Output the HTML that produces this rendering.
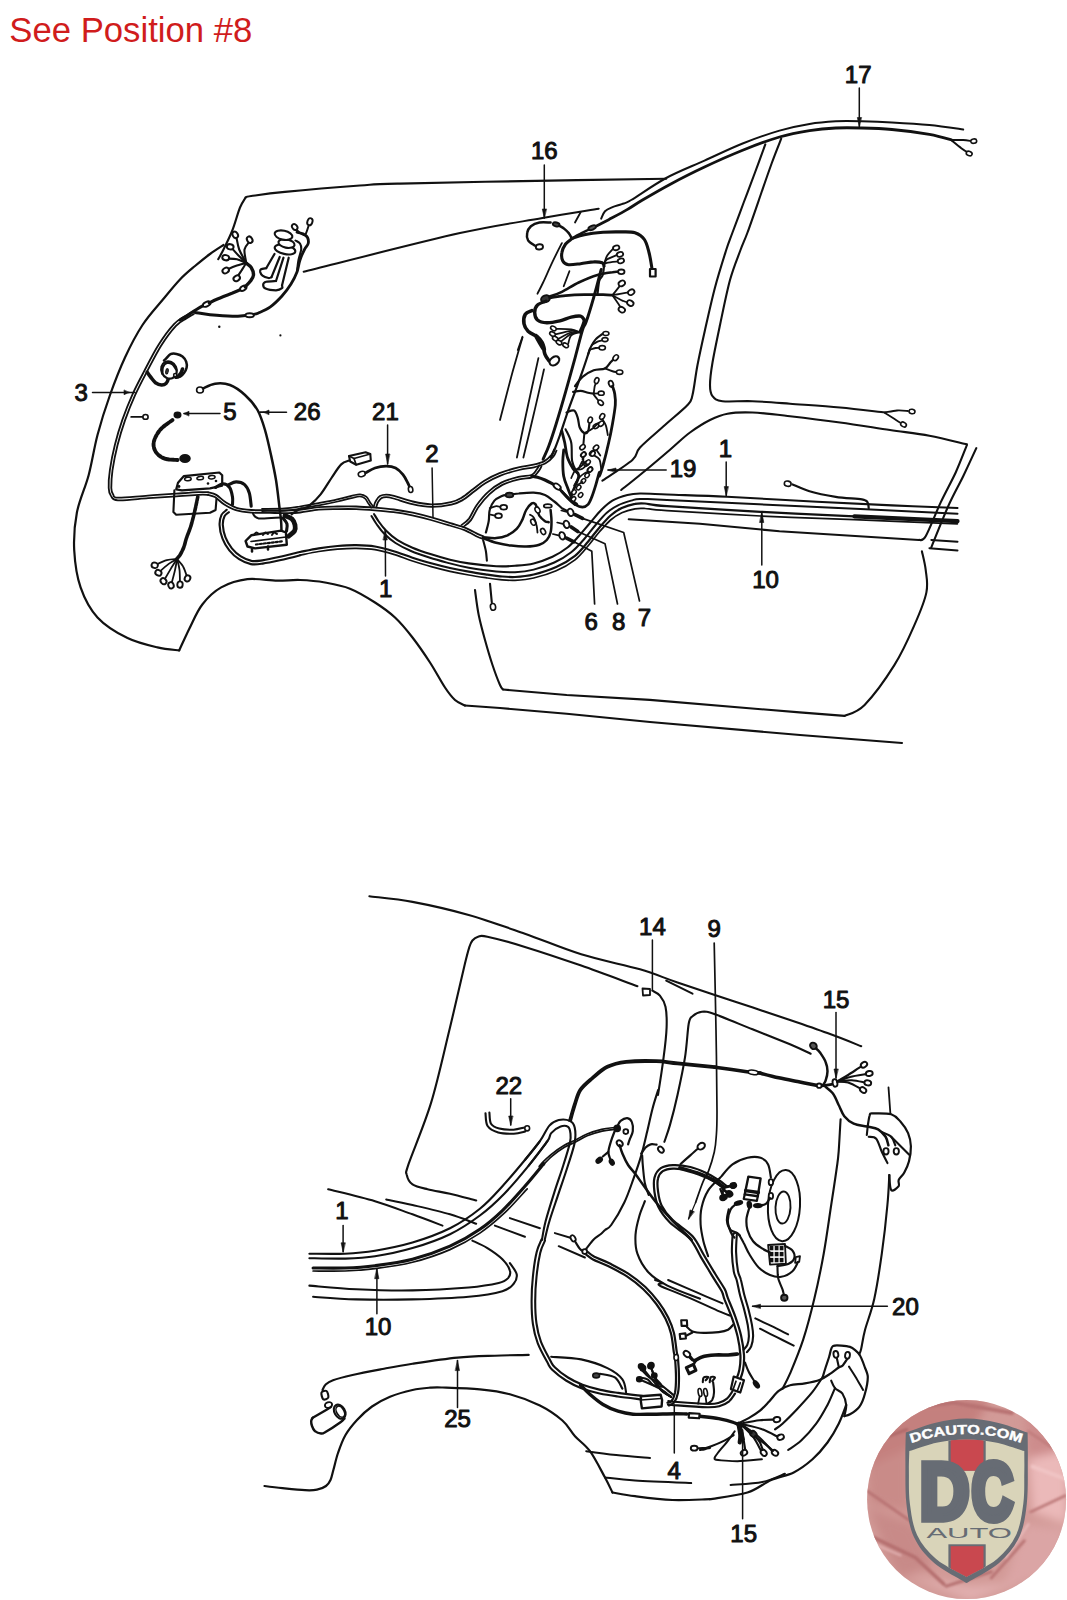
<!DOCTYPE html>
<html><head><meta charset="utf-8"><title>See Position #8</title>
<style>
html,body{margin:0;padding:0;background:#fff}
body{width:1067px;height:1600px;position:relative;overflow:hidden;font-family:"Liberation Sans",Arial,sans-serif}
.cap{position:absolute;left:9.3px;top:11.2px;font-size:34.7px;line-height:38px;color:#d01c1c;white-space:nowrap}
svg{position:absolute;left:0;top:0}
svg text{font-family:"Liberation Sans",Arial,sans-serif}
</style></head><body>
<div class="cap">See Position #8</div>
<svg width="1067" height="1600" viewBox="0 0 1067 1600">
<g fill="none" stroke="#111" stroke-width="1.6" stroke-linecap="round" stroke-linejoin="round">
<path d="M245.6 197.5C246.5 197.2 244.6 196.9 251.2 196C257.8 195.1 266.8 193.6 284.9 191.9C303 190.1 340.7 186.9 359.9 185.5C379.1 184.1 368.3 184.4 400 183.6C431.7 182.8 505.6 181.4 550 180.6C594.3 179.8 646.8 179 666.2 178.7" stroke-width="2.1"/>
<path d="M245.6 197.5C244.7 199.2 242.2 202.1 240 207.5C237.8 212.9 235.2 223 232.5 230C229.8 237 225.9 244.6 223.5 249.5C221.1 254.4 219.1 257.6 218.2 259.2" stroke-width="2.1"/>
<path d="M223.5 245C221.2 246.5 214.8 250.5 210 254C205.2 257.5 200 261.8 195 266C190 270.2 185.4 273.8 180 279.5C174.6 285.2 168.8 292.4 162.5 300C156.2 307.6 148.8 315.4 142.5 325C136.2 334.6 130.4 345.8 125 357.5C119.6 369.2 114.6 382.1 110 395C105.4 407.9 101 421.7 97.5 435C94 448.3 92.1 462.1 88.7 475C85.3 487.9 79.3 500 76.9 512.5C74.5 525 73.6 537.5 74.2 550C74.9 562.4 76.7 576.2 80.6 587.4C84.5 598.7 89.7 609 97.5 617.4C105.3 625.9 117.5 633.1 127.5 638.1C137.5 643 148.8 645.4 157.5 647.4C166.1 649.5 175.6 649.9 179.2 650.4" stroke-width="2.2"/>
<path d="M179.2 650.4C180.9 646.8 185.5 636.4 189.3 628.7C193.2 621 197.1 611.2 202.5 604.3C207.8 597.4 213.7 591.6 221.2 587.4C228.7 583.3 238.1 580.3 247.4 579.2C256.8 578.1 268.7 580.6 277.4 580.7C286.2 580.8 292.1 579.7 300 580C307.9 580.3 316.7 581 325 582.5C333.3 584 341.7 585.4 350 588.7C358.3 592 367.5 597.7 375 602.5C382.5 607.3 388.8 611.7 395 617.5C401.2 623.3 406.7 630 412.5 637.5C418.3 645 424.6 654.2 430 662.5C435.4 670.8 440.8 681.2 445 687.5C449.2 693.8 451.7 697 455 700C458.3 703 463.3 704.6 465 705.5" stroke-width="2.2"/>
<path d="M465 705.5L500 708L566.7 713.7L650 722L800 735L902 743" stroke-width="2.1"/>
<path d="M303.7 271.7C329.7 265.3 420.2 242 460 233.1C499.8 224.2 519.3 222.2 542.5 218.1C565.6 214 589.3 210.3 598.7 208.7" stroke-width="2"/>
<path d="M601.2 218.7C601.8 217.4 603.1 213.1 605 211.2C606.9 209.3 609.7 208.3 612.5 207.1C615.3 205.9 618.7 205.3 621.8 204.1C624.9 202.9 623.8 204.4 631.2 200C638.6 195.6 654 184.6 666.2 178C678.4 171.4 691.9 166.3 704.5 160.6C717.1 154.9 729.5 148.7 742 143.7C754.5 138.7 768.2 133.9 779.5 130.6C790.7 127.3 800.1 125.4 809.5 123.9C818.8 122.3 827 121.7 835.7 121.2C844.4 120.8 852.6 121 861.9 121.2C871.3 121.4 880.7 121.7 891.9 122.4C903.2 123 917.5 123.8 929.4 125C941.3 126.2 957.5 128.7 963.2 129.5" stroke-width="2"/>
<path d="M596.5 225.9C598.5 224.9 603.5 222.4 608.7 219.7C613.9 216.9 621.9 212.7 627.5 209.4C633.1 206.1 635.4 204.2 642.5 200C649.6 195.8 659.6 189.9 669.9 184.4C680.2 178.9 692.5 172.6 704.5 167C716.5 161.3 729.5 155.5 742 150.5C754.5 145.5 768.2 140.3 779.5 137C790.7 133.7 800.1 132.1 809.5 130.6C818.8 129.1 827 128.4 835.7 128C844.4 127.5 852.6 127.7 861.9 128C871.3 128.2 880.7 128.4 891.9 129.5C903.2 130.5 919.4 132.6 929.4 134.3C939.4 136.1 948.2 139 951.9 140" stroke-width="2.8"/>
<path d="M951.9 140C953.8 140 959.9 139.8 963.2 140C966.4 140.2 970 140.9 971.4 141.1" stroke-width="2"/>
<path d="M951.9 140.7C953.5 142 958.7 146.3 961.3 148.2C963.9 150.2 966.6 151.7 967.7 152.3" stroke-width="2"/>
<ellipse cx="973.7" cy="141.1" rx="3" ry="2.2" transform="rotate(-10 973.7 141.1)" fill="#fff" stroke-width="1.6"/>
<ellipse cx="969.2" cy="153.5" rx="3" ry="2.2" transform="rotate(20 969.2 153.5)" fill="#fff" stroke-width="1.6"/>
<path d="M765.3 144.4C763.6 149.1 758.6 162.8 755 172.5C751.4 182.2 747.5 192.5 743.7 202.5C740 212.5 735.4 224.6 732.5 232.5C729.6 240.4 729.1 240.8 726.2 250C723.3 259.2 718.5 274.2 715 287.5C711.5 300.8 707.9 317.1 705 330C702.1 342.9 699.6 354.2 697.5 365C695.4 375.8 694.2 388.3 692.5 395C690.8 401.7 692.1 400 687.5 405C682.9 410 672.9 417.9 665 425C657.1 432.1 645.4 441.7 640 447.5C634.6 453.3 638.7 454.5 632.4 460C626.2 465.5 607.4 477.2 602.4 480.6" stroke-width="2.1"/>
<path d="M781.2 138.7C779.6 142.8 775.2 153.6 771.8 163C768.4 172.4 764.6 183.4 760.6 195C756.6 206.6 750.9 223.3 747.5 232.5C744.1 241.7 743.4 242.1 740.5 250C737.6 257.9 733.4 267.5 730 280C726.6 292.5 722.9 311.2 720 325C717.1 338.8 714.2 352.5 712.5 362.5C710.8 372.5 710 379.4 710 385C710 390.6 710.4 393.5 712.5 396.2C714.6 398.9 715.8 400.4 722.5 401.2C729.2 402 741.2 400.8 752.5 401.2C763.8 401.6 775.4 402.6 790 403.7C804.6 404.8 824.2 406 840 407.5C855.8 409 877.5 411.7 885 412.5" stroke-width="2.1"/>
<path d="M885 412.5C887 412.2 893.2 410.8 897 410.5C900.8 410.2 906.2 410.9 908 411" stroke-width="1.8"/>
<path d="M885 413C886.3 413.8 890.5 416.4 893 418C895.5 419.6 898.8 421.8 900 422.5" stroke-width="1.8"/>
<ellipse cx="912" cy="411.5" rx="3" ry="2.2" transform="rotate(10 912 411.5)" fill="#fff" stroke-width="1.6"/>
<ellipse cx="903.5" cy="424.5" rx="3" ry="2.2" transform="rotate(30 903.5 424.5)" fill="#fff" stroke-width="1.6"/>
<path d="M621.2 490C624.3 487.5 631.8 481.7 639.9 475C648.1 468.3 661.7 456.8 670 449.7C678.3 442.6 683.3 437.4 690 432.5C696.7 427.6 703.8 423.1 710 420C716.2 416.9 720.4 414.9 727.5 413.7C734.6 412.4 742.1 412.1 752.5 412.5C762.9 412.9 775.4 414.5 790 416.2C804.6 417.9 823.3 420.2 840 422.5C856.7 424.8 875.1 427.8 890 430C904.9 432.2 916.6 433.3 929.4 435.7C942.2 438.1 960.7 442.9 966.9 444.3" stroke-width="2.1"/>
<path d="M966.9 445.1C965 449.7 960 462.9 955.7 472.5C951.3 482 945.7 491.8 940.7 502.4C935.7 513.1 929.3 529.9 925.7 536.2C922 542.4 920 539.3 918.9 539.9" stroke-width="2.1"/>
<path d="M976.3 448.1C974.1 452.8 967.8 466.5 963.2 476.2C958.5 485.9 953.5 494.3 948.2 506.2C942.9 518.1 934.1 540.6 931.3 547.4" stroke-width="2.1"/>
<path d="M931.3 539.9L957.5 541.8" stroke-width="2"/>
<path d="M929.4 548.2L957.5 550.4" stroke-width="2"/>
<path d="M628.7 519.2L699.9 523.7L779.5 531.3L918.9 539.9" stroke-width="2"/>
<path d="M921.9 551.2C922.5 554.3 924.9 563.1 925.7 569.9C926.4 576.8 928.3 583.2 926.4 592.4C924.6 601.6 919.8 612.9 914.5 624.9C909.2 637 902.9 651.6 894.5 664.9C886.2 678.2 872.9 696.4 864.6 704.9C856.2 713.4 847.9 714 844.6 715.9" stroke-width="2.1"/>
<path d="M844.6 715.9L799.6 712.4L649.8 699.9L566.7 695L503 689.5" stroke-width="2.1"/>
<path d="M503 689.5C502.5 688.8 501.8 689.1 500 685C498.2 680.9 495 672.5 492.5 665C490 657.5 487.3 648.3 485 640C482.7 631.7 480.4 623.3 478.7 615C477 606.7 475.6 594.2 475 590" stroke-width="2.1"/>
<path d="M192.4 311.8C191.1 312.6 187.9 314.3 184.8 316.3C181.8 318.4 178.3 319.4 174 324.1C169.7 328.7 163.9 336.3 158.9 344.3C153.8 352.2 148.2 363.5 143.8 371.9C139.4 380.2 136 386.5 132.5 394.4C128.9 402.4 125.4 411.2 122.4 419.6C119.5 427.9 117 436.3 114.9 444.7C112.8 453 110.9 462.6 109.9 469.8C108.8 477 108.5 483.7 108.7 488C108.8 492.4 109.4 493.7 110.9 495.8C112.5 497.8 111.7 499.9 117.9 500.3C124.1 500.8 138.4 498.9 148.1 498.2C157.8 497.6 167.8 496.9 176.3 496.3C184.7 495.8 193.5 495.1 198.8 494.8C204 494.6 206.5 494.8 208 494.9" stroke-width="1.8"/>
<path d="M193.8 314.1C192.5 314.9 189.3 316.6 186.3 318.6C183.4 320.5 180.2 321.4 176 325.9C171.8 330.4 166.1 337.9 161.1 345.7C156.2 353.6 150.6 364.8 146.2 373.1C141.8 381.4 138.5 387.7 134.9 395.6C131.4 403.4 127.9 412.2 125 420.4C122.1 428.7 119.6 437 117.5 445.3C115.4 453.6 113.6 463.1 112.5 470.2C111.5 477.3 111.3 484 111.3 488C111.4 492 112 492.6 113.1 494.2C114.2 495.8 112.3 497.4 118.1 497.7C123.9 497.9 138.2 496.2 147.9 495.6C157.6 494.9 167.7 494.2 176.1 493.7C184.6 493.1 193.3 492.4 198.6 492.2C204 491.9 206.4 492.2 208 492.1" stroke-width="1.8"/>
<path d="M207.6 494.7C208.8 495.1 212.2 495.5 214.9 497.1C217.7 498.8 220.8 502.3 224.3 504.5C227.8 506.7 231.4 508.9 235.8 510.2C240.3 511.6 245.4 512.2 251.1 512.6C256.8 513 264.3 512.8 270 512.9C275.6 513 280 513.2 285 513.1C290 513 294.5 513.1 300.1 512.5C305.8 511.9 312.6 510.3 318.8 509.7C325 509.1 331.3 509.2 337.5 509.1C343.7 509 349.9 508.9 356.2 509.1C362.4 509.3 368.7 509.8 374.9 510.3C381.1 510.8 387.3 511.3 393.5 512.1C399.8 512.9 406 514 412.2 515.3C418.5 516.6 424.6 518.2 430.9 520C437.1 521.7 444 523.8 449.6 525.5C455.2 527.3 459.9 528.3 464.5 530.2C469.2 532.1 474.4 535.4 477.4 536.8C480.4 538.2 481.7 538.4 482.5 538.7" stroke-width="1.8"/>
<path d="M208.4 492.3C209.7 492.7 213.4 493.2 216.3 494.9C219.1 496.5 222.3 500.2 225.7 502.3C229.1 504.4 232.3 506.5 236.6 507.8C240.8 509 245.7 509.6 251.3 510C256.9 510.4 264.4 510.2 270 510.3C275.6 510.4 280 510.6 285 510.5C290 510.4 294.3 510.5 299.9 509.9C305.5 509.3 312.3 507.7 318.6 507.1C324.9 506.5 331.2 506.6 337.5 506.5C343.8 506.4 350 506.3 356.2 506.5C362.5 506.7 368.8 507.2 375.1 507.7C381.4 508.2 387.6 508.7 393.9 509.5C400.1 510.3 406.5 511.4 412.8 512.7C419 514.1 425.3 515.7 431.5 517.4C437.8 519.2 444.7 521.3 450.4 523.1C456 524.8 460.8 525.9 465.5 527.8C470.2 529.7 475.6 533 478.6 534.4C481.6 535.8 482.6 536 483.5 536.3" stroke-width="1.8"/>
<path d="M262 511.1C265.9 511 278.7 511 285.1 510.6C291.4 510.2 294.5 509.6 300.2 508.7C305.8 507.8 312.6 506.5 318.9 505.3C325.2 504.1 332.1 502.7 337.7 501.5C343.4 500.2 349 498.6 352.7 497.8C356.4 496.9 357.9 496.4 359.9 496.5C362 496.6 363.5 497.2 364.9 498.4C366.3 499.5 367.3 502.1 368.4 503.6C369.5 505.2 370.8 507 371.3 507.6" stroke-width="1.7"/>
<path d="M262 508.9C265.8 508.8 278.6 508.8 284.9 508.4C291.2 508 294.2 507.4 299.8 506.5C305.4 505.6 312.3 504.3 318.5 503.1C324.7 501.9 331.6 500.6 337.3 499.3C342.9 498.1 348.5 496.5 352.3 495.6C356.1 494.8 357.7 494.1 360.1 494.3C362.4 494.5 364.6 495.3 366.3 496.6C368 498 369.1 500.8 370.2 502.4C371.3 504 372.6 505.7 373.1 506.4" stroke-width="1.7"/>
<path d="M376.2 507.4C376.5 506.6 377.1 504 377.9 502.4C378.8 500.9 379.9 499.2 381.3 498.3C382.7 497.4 384.2 497.2 386.2 497.2C388.2 497.2 389 497.3 393.4 498.5C397.7 499.6 405.9 502.7 412.2 504.1C418.5 505.5 424.6 506.8 431.2 506.9C437.7 507 446.2 505.8 451.5 504.7C456.8 503.5 459.3 502 463.2 499.8C467 497.6 470.7 494.1 474.5 491.3C478.2 488.5 481.3 485.6 485.7 483C490 480.4 494.9 477.8 500.5 475.6C506 473.4 513.4 471.4 519 470C524.6 468.6 529.6 468.4 534 467.3C538.4 466.2 542.4 465.1 545.6 463.3C548.9 461.5 551.7 458.6 553.5 456.4C555.3 454.3 556 451.6 556.5 450.6" stroke-width="1.8"/>
<path d="M373.8 506.6C374.1 505.7 374.6 502.9 375.7 501.2C376.7 499.4 378.2 497.2 379.9 496.1C381.7 495 383.8 494.6 386.2 494.6C388.6 494.6 389.6 494.8 394 495.9C398.5 497.1 406.6 500.1 412.8 501.5C419 502.9 424.9 504.2 431.2 504.3C437.6 504.4 445.8 503.3 450.9 502.1C456 501 458.2 499.7 461.8 497.6C465.5 495.4 469.2 492.1 472.9 489.3C476.7 486.5 479.9 483.5 484.3 480.8C488.8 478.1 493.8 475.4 499.5 473.2C505.2 471 512.7 468.8 518.4 467.4C524 466 529.1 465.8 533.4 464.7C537.7 463.7 541.4 462.7 544.4 461.1C547.4 459.4 549.9 456.7 551.5 454.8C553.1 452.8 553.7 450.3 554.1 449.4" stroke-width="1.8"/>
<path d="M226.7 509.8C225.8 510.7 222.7 512.4 221.5 514.9C220.3 517.4 219.4 521.1 219.6 525.1C219.7 529 220.8 534.4 222.5 538.6C224.1 542.8 226.5 546.9 229.3 550.3C232.1 553.8 235.5 556.9 239.1 559.2C242.7 561.5 247 563.4 250.9 564.1C254.8 564.9 257.9 564.3 262.7 563.6C267.5 563 273.4 561.7 279.7 560.3C285.9 558.9 296.9 556.1 300.4 555.2" stroke-width="2.1"/>
<path d="M228.9 512.2C228.2 512.9 225.5 514.2 224.5 516.3C223.5 518.4 222.7 521.4 222.8 524.9C223 528.4 224 533.5 225.5 537.4C227 541.3 229.3 545.1 231.9 548.3C234.4 551.4 237.6 554.3 240.9 556.4C244.2 558.5 247.9 560.2 251.5 560.9C255.1 561.5 257.7 561 262.3 560.4C266.9 559.7 272.7 558.5 278.9 557.1C285.2 555.7 296.2 552.8 299.6 552" stroke-width="2.1"/>
<path d="M374 514C374.8 515.2 376.7 518.7 378.7 521.5C380.7 524.3 383.1 527.7 386.2 530.8C389.3 533.9 393.1 537.4 397.5 540.2C401.9 543 406.9 545.4 412.5 547.7C418.1 550.1 424.9 552.3 431.2 554.3C437.4 556.3 443.8 558.2 450 559.7C456.2 561.2 461 562.3 468.7 563.4C476.4 564.5 488.5 565.8 496.2 566.2C503.9 566.6 508.8 566.3 515 565.8C521.2 565.3 527.5 564.9 533.7 563.4C540 561.9 546.9 559.4 552.5 556.8C558.1 554.1 563.1 550.9 567.5 547.5C571.9 544.1 575 540.3 578.7 536.2C582.5 532.1 586.2 527.4 590 523C593.8 518.6 597.5 513.7 601.2 510C604.9 506.3 608 503.1 612.4 500.6C616.8 498.1 622.8 496.2 627.4 495C632 493.8 633.4 493.6 640 493.5C646.6 493.4 652.5 493.9 667 494.5C681.5 495.1 702 495.6 727 496.8C752 498 789.5 500.3 817 501.7C844.5 503.1 868.6 504.3 892 505.4C915.4 506.4 946.6 507.6 957.5 508" stroke-width="2.1"/>
<path d="M371.5 516C372.3 517.3 374.4 521.1 376.5 524C378.6 526.9 380.8 530.3 384 533.5C387.2 536.7 391 540.1 395.5 543C400 545.9 405.2 548.5 411 551C416.8 553.5 423.5 555.7 430 557.8C436.5 559.9 443.6 561.7 450 563.4C456.4 565.1 461 566.4 468.7 567.8C476.4 569.1 488.5 570.8 496.2 571.5C503.9 572.2 508.8 572.5 515 572.2C521.2 571.9 527.2 571.2 533.7 569.6C540.2 568 548 565.4 554.3 562.5C560.5 559.6 566.4 556 571.2 552.2C576.1 548.5 579.3 544.5 583.4 540C587.5 535.5 591.7 529.5 595.6 525C599.5 520.5 603.1 516.1 606.8 512.8C610.5 509.5 613.9 507.3 618 505.3C622.1 503.3 627.5 501.7 631.2 500.6C634.9 499.6 634 499.1 640 499C646 498.9 637.5 498.7 667 500C696.5 501.3 768.6 504.7 817 507C865.4 509.3 934.1 512.6 957.5 513.7" stroke-width="2"/>
<path d="M300 552C303.1 551.4 312.4 549.3 318.7 548.3C324.9 547.3 331.2 546.5 337.5 546C343.8 545.5 349.9 545.1 356.2 545.2C362.4 545.3 368.8 545.5 375 546.5C381.2 547.5 387.4 549.3 393.7 551.2C399.9 553.1 406.2 555.7 412.5 557.7C418.8 559.7 424.9 561.6 431.2 563.3C437.4 565 443.8 566.6 450 568C456.2 569.4 462.5 570.6 468.7 571.7C474.9 572.8 482.2 573.9 487.4 574.7C492.6 575.5 495.4 575.9 500 576.3C504.6 576.7 509.4 577.3 515 577C520.6 576.7 526.8 576.2 533.7 574.5C540.6 572.8 549.3 570.1 556.2 567C563.1 563.9 569.7 560 575 555.8C580.3 551.6 584 546.4 588 541.7C592 537 595.5 532.1 599.3 527.7C603.1 523.3 606.9 518.8 610.6 515.5C614.4 512.2 617.7 509.9 621.8 508C625.9 506.1 631.1 504.6 635 503.9C638.9 503.1 639.7 503.1 645 503.5C650.3 503.9 647.7 504.8 667 506.2C686.3 507.6 729.5 510.1 760.7 511.8C791.9 513.5 838.8 515.5 854.4 516.3" stroke-width="2.2"/>
<path d="M300 555.2C303.1 554.6 312.4 552.5 318.7 551.5C324.9 550.5 331.2 549.7 337.5 549.2C343.8 548.7 349.9 548.3 356.2 548.4C362.4 548.5 368.8 548.7 375 549.7C381.2 550.7 387.4 552.5 393.7 554.4C399.9 556.3 406.2 559 412.5 561C418.8 563 424.9 564.9 431.2 566.6C437.4 568.3 443.8 569.9 450 571.3C456.2 572.7 462.5 573.9 468.7 575C474.9 576.1 482.2 577.2 487.4 578C492.6 578.8 495.4 579.2 500 579.6C504.6 580 509.4 580.6 515 580.3C520.6 580 526.8 579.6 533.7 578C540.6 576.4 549.3 573.8 556.2 570.8C563.1 567.8 569.7 563.9 575 559.8C580.3 555.7 584 550.6 588 546C592 541.4 595.5 536.3 599.3 532C603.1 527.7 606.9 523.2 610.6 520C614.4 516.8 617.7 514.6 621.8 512.7C625.9 510.8 631.1 509.5 635 508.8C638.9 508.1 639.7 508.2 645 508.5C650.3 508.8 647.7 509.4 667 510.7C686.3 511.9 729.5 514.5 760.7 516C791.9 517.5 821.6 518.4 854.4 519.7C887.2 521 940.3 523.1 957.5 523.8" stroke-width="1.7"/>
<path d="M854.4 516.3L957.5 521.2" stroke-width="4.2"/>
<ellipse cx="200" cy="390" rx="3.4" ry="3" transform="rotate(0 200 390)" fill="#fff" stroke-width="1.6"/>
<path d="M203 388.5C205 387.7 210.5 384.3 215 383.7C219.5 383.1 225 383.1 230 385C235 386.9 240.4 390.8 245 395C249.6 399.2 254.2 404.2 257.5 410C260.8 415.8 262.8 422.5 265 430C267.2 437.5 269.2 446.7 271 455C272.8 463.3 274.6 471.5 276 480C277.4 488.5 278.5 499.5 279.3 506.2C280.1 512.9 280.6 515.9 281 520C281.4 524.1 281.4 529.2 281.5 531" stroke-width="2.5"/>
<ellipse cx="177.5" cy="415" rx="3.2" ry="2.6" transform="rotate(0 177.5 415)" fill="#111" stroke-width="1.6"/>
<path d="M172.5 420C170.4 421.7 163.1 426.2 160 430C156.9 433.8 154.3 438.8 153.7 442.5C153.1 446.2 154.3 449.8 156.2 452.5C158.1 455.2 161.4 457.4 165 458.7C168.6 459.9 175.4 459.8 177.5 460" stroke-width="3.9" stroke-dasharray="3 1.4"/>
<ellipse cx="185" cy="458.5" rx="5" ry="3.6" transform="rotate(0 185 458.5)" fill="#111" stroke-width="1.6"/>
<path d="M183.7 476.2L219.3 472.5L222.2 475.3L222.2 485.6L210 488.4L181.9 490.3L176.2 489.4L178 482.8Z" stroke-width="2.2" fill="#fff"/>
<ellipse cx="187.9" cy="479" rx="3.3" ry="1.7" transform="rotate(-5 187.9 479)" fill="#fff" stroke-width="1.5"/>
<ellipse cx="200.2" cy="478.1" rx="3.3" ry="1.7" transform="rotate(-5 200.2 478.1)" fill="#fff" stroke-width="1.5"/>
<ellipse cx="211.8" cy="477.2" rx="3.3" ry="1.7" transform="rotate(-5 211.8 477.2)" fill="#fff" stroke-width="1.5"/>
<path d="M174.4 490.3L173.4 511.9L176.2 514.7L210 512.8L215.6 510L216.5 498.7" stroke-width="2.1"/>
<circle cx="179" cy="486.5" r="1.4" fill="#111" stroke="none"/>
<circle cx="208" cy="483.5" r="1.3" fill="#111" stroke="none"/>
<circle cx="216" cy="481" r="1.3" fill="#111" stroke="none"/>
<path d="M215.6 487.5C216.8 486.9 220.7 483.7 223 483.7C225.3 483.7 228 485.3 229.6 487.5C231.2 489.7 232 494.1 232.5 496.9C233 499.7 232.5 503.1 232.5 504.4" stroke-width="3.1"/>
<path d="M228.7 484.7C229.9 484.2 233.5 481.9 236.2 481.9C238.8 481.9 242.4 482.8 244.6 484.7C246.8 486.6 248.2 489.4 249.3 493C250.4 496.6 250.9 504 251.2 506.2" stroke-width="3.1"/>
<path d="M197.8 496.9C197.3 499.1 196.1 505.3 195 510C193.9 514.7 192.6 520.3 191.2 525C189.8 529.7 187.8 534.2 186.5 538C185.2 541.8 184.8 544.7 183.7 547.5C182.6 550.3 181.2 553 180 555C178.8 557 176.8 558.8 176.2 559.6" stroke-width="3.6" stroke-dasharray="4 1.2"/>
<path d="M177 559C175.3 559.2 170.6 559.1 166.8 560.1C163.1 561.2 156.7 564.4 154.7 565.3" stroke-width="1.8"/>
<ellipse cx="154.7" cy="565.3" rx="3.2" ry="2.7" transform="rotate(15 154.7 565.3)" fill="#fff" stroke-width="1.9"/>
<path d="M177 559C175.6 559.8 171.8 561.6 168.7 563.9C165.6 566.2 160.1 571.3 158.4 572.8" stroke-width="1.8"/>
<ellipse cx="158.4" cy="572.8" rx="3.2" ry="2.7" transform="rotate(30 158.4 572.8)" fill="#fff" stroke-width="1.9"/>
<path d="M177 559C176 560.5 173.5 564.4 171.2 568.1C169 571.8 164.8 579 163.5 581.2" stroke-width="1.8"/>
<ellipse cx="163.5" cy="581.2" rx="3.2" ry="2.7" transform="rotate(45 163.5 581.2)" fill="#fff" stroke-width="1.9"/>
<path d="M177 559C176.7 560.9 176 565.8 175 570.1C174 574.5 171.7 582.8 171 585.3" stroke-width="1.8"/>
<ellipse cx="171" cy="585.3" rx="3.2" ry="2.7" transform="rotate(70 171 585.3)" fill="#fff" stroke-width="1.9"/>
<path d="M177 559C177.4 560.8 179 565.5 179.5 569.8C180 574.1 179.9 582.1 180 584.6" stroke-width="1.8"/>
<ellipse cx="180" cy="584.6" rx="3.2" ry="2.7" transform="rotate(95 180 584.6)" fill="#fff" stroke-width="1.9"/>
<path d="M177 559C178 560.3 181.5 563.5 183.2 566.7C185 569.9 186.8 576.5 187.5 578.4" stroke-width="1.8"/>
<ellipse cx="187.5" cy="578.4" rx="3.2" ry="2.7" transform="rotate(120 187.5 578.4)" fill="#fff" stroke-width="1.9"/>
<path d="M245.6 541L251.2 535.3L281.2 530.6L285.9 532.5L286.8 544.7L255 548.4L247.5 546.5Z" stroke-width="2.4" fill="#fff"/>
<path d="M251 541.5L286 537" stroke-width="1.7"/>
<path d="M256 544.5L282 541.3" stroke-width="2.2" stroke-dasharray="2 2"/>
<path d="M254 535C254.3 534.6 255.2 532.8 256 532.6C256.8 532.4 258.5 533.8 259 534" stroke-width="2"/>
<path d="M263 535C263.3 534.6 264.2 532.8 265 532.6C265.8 532.4 267.5 533.8 268 534" stroke-width="2"/>
<path d="M272 535C272.3 534.6 273.2 532.8 274 532.6C274.8 532.4 276.5 533.8 277 534" stroke-width="2"/>
<path d="M252 548.5L252 551.5" stroke-width="2.5"/>
<path d="M268 546.5L268 549.5" stroke-width="2.5"/>
<path d="M285 515.6C286.2 516.2 290.3 517.4 292 519C293.7 520.6 294.6 523 295 525C295.4 527 295.6 529.1 294.5 531C293.4 532.9 289.7 535.3 288.7 536.2" stroke-width="4.8"/>
<path d="M283 518C283.7 519 286.4 521.8 287 524C287.6 526.2 286.6 529.8 286.5 531" stroke-width="3.1"/>
<path d="M253 513.7C253.9 514.5 254 517.8 258.7 518.4C263.4 519 277.4 517.6 281.2 517.5" stroke-width="2"/>
<path d="M291.7 514.3C293.1 513.4 297.9 509.7 299.9 508.7C301.9 507.7 302.1 508.9 303.7 508.4C305.3 507.9 306.6 507.9 309.4 505.6C312.2 503.3 316.9 499.1 320.6 494.4C324.3 489.7 328.4 482.5 331.8 477.5C335.2 472.5 338.3 467.2 341.2 464.4C344.1 461.6 347.7 461.2 349 460.6" stroke-width="2.2"/>
<path d="M349 456L365.6 452.2L370.3 454L370.8 460.6L356.2 464.7L350.2 461.5Z" stroke-width="2.1"/>
<path d="M349 456L354 458.5L370.3 454" stroke-width="1.7"/>
<path d="M354 458.5L356.2 464.7" stroke-width="1.7"/>
<ellipse cx="361.8" cy="474" rx="3.6" ry="2.6" transform="rotate(-15 361.8 474)" fill="#fff" stroke-width="1.6"/>
<path d="M365.6 472.8C367.2 472 371.6 469.1 375 468C378.4 466.9 382.8 466.2 386.2 466.2C389.6 466.2 392.8 466.6 395.6 468C398.4 469.4 401 472.2 403 474.7C405 477.2 406.7 480.9 407.8 483C408.9 485.1 409.3 486.3 409.6 487" stroke-width="2.8"/>
<ellipse cx="410.6" cy="489.5" rx="3" ry="2.2" transform="rotate(80 410.6 489.5)" fill="#fff" stroke-width="1.6"/>
<path d="M131.2 416.9L143.2 416.9" stroke-width="1.8"/>
<ellipse cx="145.5" cy="416.9" rx="2.6" ry="2.4" transform="rotate(0 145.5 416.9)" fill="#fff" stroke-width="1.6"/>
<path d="M490 583.7L491.8 602.4" stroke-width="2.1"/>
<ellipse cx="493" cy="606.9" rx="3.4" ry="2.6" transform="rotate(80 493 606.9)" fill="#fff" stroke-width="1.6"/>
<ellipse cx="787.7" cy="483.7" rx="3.4" ry="2.6" transform="rotate(10 787.7 483.7)" fill="#fff" stroke-width="1.6"/>
<path d="M792.6 484.5C795.4 485.6 802.3 489.1 809.5 491.2C816.6 493.3 827 495.4 835.7 496.8C844.4 498.2 856.6 498.5 861.9 499.4C867.2 500.4 866.4 501 867.6 502.4C868.7 503.9 868.5 507.1 868.7 508.1" stroke-width="2.2"/>
<path d="M195 312.5C197.5 312.8 203.7 314.1 210 314.7C216.2 315.3 226.6 316.1 232.5 316.2C238.4 316.3 243.4 315.6 245.5 315.5" stroke-width="3.1"/>
<ellipse cx="249.7" cy="315.2" rx="4.2" ry="2" transform="rotate(0 249.7 315.2)" fill="#fff" stroke-width="1.9"/>
<path d="M253.9 314.3C254.6 314.1 255.3 314.4 258 313.2C260.6 312 266 310.1 270 307.2C274 304.3 278.5 299.8 282 296C285.5 292.1 288.5 288 291 284C293.5 280 295.5 276 297 272C298.5 268 298.7 263.7 300 260C301.2 256.2 303.1 252.2 304.5 249.5C305.8 246.7 307.7 245.5 308.2 243.5C308.7 241.5 308.3 239.1 307.5 237.5C306.6 235.9 304.7 234.6 303 233.7C301.2 232.9 298 232.5 297 232.2" stroke-width="2.8"/>
<path d="M297 272C297.2 270 297.8 263.7 298.5 260C299.2 256.2 300.9 252.2 301.2 249.5C301.4 246.7 300.9 245 300 243.5C299 242 296.2 241 295.5 240.5" stroke-width="2.1"/>
<path d="M180 320C181.2 319.2 184.7 317.2 187.5 315.5C190.2 313.7 193.7 311.2 196.5 309.5C199.2 307.8 202.7 306 204 305.3" stroke-width="3.1"/>
<ellipse cx="206.7" cy="304.1" rx="4" ry="2.2" transform="rotate(-25 206.7 304.1)" fill="#fff" stroke-width="1.9"/>
<path d="M209.2 302.9C210.6 302.2 213.6 300.6 217.5 299C221.4 297.3 228.6 294.5 232.5 293C236.4 291.4 239.4 290.1 240.7 289.5" stroke-width="3.1"/>
<ellipse cx="243.3" cy="288.2" rx="3.4" ry="2.2" transform="rotate(-30 243.3 288.2)" fill="#fff" stroke-width="1.9"/>
<path d="M245.2 286.7C246.1 285.7 249.1 282.9 250.5 281C251.9 279 253.4 277.2 253.5 275C253.6 272.7 252.5 269.5 251.2 267.5C250 265.5 246.9 263.7 246 263" stroke-width="3.4"/>
<path d="M246.3 263C245.1 260.7 240.9 253.8 239.2 249.5C237.6 245.2 236.9 239.2 236.4 237.2" stroke-width="2.1"/>
<ellipse cx="235.2" cy="234.8" rx="3.4" ry="2.6" transform="rotate(60 235.2 234.8)" fill="#fff" stroke-width="2"/>
<path d="M246.3 263C246 260.7 244 253 244.5 249.5C245 246 248.4 243.4 249.1 242.1" stroke-width="2.1"/>
<ellipse cx="249.7" cy="239.7" rx="3.4" ry="2.6" transform="rotate(60 249.7 239.7)" fill="#fff" stroke-width="2"/>
<path d="M246.3 263C245 261.7 241 258 238.5 255.5C236 252.9 232.6 249 231.4 247.7" stroke-width="2.1"/>
<ellipse cx="230.2" cy="246.8" rx="3.4" ry="2.6" transform="rotate(10 230.2 246.8)" fill="#fff" stroke-width="2"/>
<path d="M246.3 263C244.7 262.4 240.2 260 237 259.2C233.8 258.5 228.6 258.7 226.9 258.6" stroke-width="2.1"/>
<ellipse cx="225.7" cy="257.7" rx="3.4" ry="2.6" transform="rotate(10 225.7 257.7)" fill="#fff" stroke-width="2"/>
<path d="M246.3 263C244.5 263.5 238.7 264.9 235.5 266C232.3 267.1 228.4 269 226.9 269.6" stroke-width="2.1"/>
<ellipse cx="225.7" cy="270.5" rx="3.4" ry="2.6" transform="rotate(-30 225.7 270.5)" fill="#fff" stroke-width="2"/>
<path d="M246.3 263C245.5 264.2 242.9 268.3 241.5 270.5C240.1 272.6 238.5 275 237.9 275.9" stroke-width="2.1"/>
<ellipse cx="236.7" cy="278.3" rx="3.4" ry="2.6" transform="rotate(-30 236.7 278.3)" fill="#fff" stroke-width="2"/>
<ellipse cx="285" cy="249.5" rx="10.5" ry="4.5" transform="rotate(12 285 249.5)" fill="#fff" stroke-width="2.1"/>
<ellipse cx="286.5" cy="243.5" rx="8.2" ry="4.2" transform="rotate(12 286.5 243.5)" fill="#fff" stroke-width="2.1"/>
<ellipse cx="283.5" cy="235.2" rx="9" ry="4.5" transform="rotate(12 283.5 235.2)" fill="#fff" stroke-width="2.1"/>
<path d="M274.5 254L266.2 268.2" stroke-width="2.2"/>
<path d="M279.7 257L271.5 277.2" stroke-width="2.2"/>
<path d="M266.2 268.2C265.3 268.4 262 268.7 261 269.3C260 269.9 260 270.9 260.2 272C260.5 273.1 261.1 274.7 262.5 275.7C263.8 276.7 267 277.7 268.5 278C270 278.2 271 277.4 271.5 277.2" stroke-width="2.2"/>
<path d="M283.5 257.7L276 281" stroke-width="2.2"/>
<path d="M288.7 257.7L282 285.5" stroke-width="2.2"/>
<path d="M276 281C274.3 281.1 268.3 281.2 266.2 281.7C264.1 282.3 263.3 283.1 263.2 284.3C263.1 285.4 263.3 287.5 265.5 288.5C267.6 289.5 273.2 290.3 276 290.3C278.7 290.2 281 289 282 288.2C283 287.4 282 285.9 282 285.5" stroke-width="2.2"/>
<path d="M304.5 235.2C303.7 234.9 301.3 233.9 300 233C298.7 232.1 297.2 230.2 296.7 229.7" stroke-width="2"/>
<ellipse cx="294.7" cy="227" rx="3.2" ry="2.4" transform="rotate(50 294.7 227)" fill="#fff" stroke-width="1.9"/>
<path d="M305.2 235.2C305.5 234.6 306.1 233.1 306.7 231.5C307.3 229.9 308.3 226.5 308.7 225.5" stroke-width="2"/>
<ellipse cx="309.9" cy="221.7" rx="3.6" ry="2.5" transform="rotate(-70 309.9 221.7)" fill="#fff" stroke-width="1.9"/>
<circle cx="219.3" cy="326.8" r="1.2" fill="#111" stroke="none"/>
<circle cx="280.4" cy="335.4" r="1.1" fill="#111" stroke="none"/>
<path d="M147.2 372.2C147.8 373.1 149.6 375.8 151 377.5C152.4 379.2 153.8 381.4 155.5 382.7C157.2 383.9 159.8 384.9 161.5 385C163.2 385.1 164.9 384.5 166 383.5C167.1 382.5 167.9 380.5 168.2 379C168.4 377.5 167.6 375.2 167.5 374.5" stroke-width="3.6"/>
<path d="M164 360.5C164.3 360.2 164.9 359.8 166 358.7C167.1 357.6 168.8 355 170.5 354.2C172.2 353.4 174.5 353.5 176.5 353.9C178.5 354.3 180.9 355.2 182.5 356.5C184.1 357.8 185.5 359.8 186.2 361.7C186.9 363.6 187 365.8 186.6 367.7C186.2 369.6 185.1 371.5 184 373C182.9 374.5 181.6 375.9 180.2 376.7C178.8 377.5 176.3 377.6 175.5 377.8" stroke-width="2.5"/>
<ellipse cx="169" cy="370" rx="7.6" ry="8.8" transform="rotate(-25 169 370)" fill="#fff" stroke-width="2.2"/>
<path d="M162.5 374C162.6 372.8 162.2 368.8 163 367C163.8 365.2 165.4 363.4 167 363C168.6 362.6 171 363.4 172.5 364.5C174 365.6 175.4 368.7 176 369.5" stroke-width="2.1"/>
<ellipse cx="167" cy="371.3" rx="1.2" ry="2.6" transform="rotate(10 167 371.3)" fill="#444" stroke-width="1.2"/>
<ellipse cx="175.2" cy="375" rx="1.6" ry="1.6" transform="rotate(0 175.2 375)" fill="#fff" stroke-width="1.5"/>
<path d="M178 376.5C178.5 375.9 180.2 374.2 181 373C181.8 371.8 182.2 369.7 182.5 369" stroke-width="3.6"/>
<ellipse cx="539.4" cy="246.9" rx="3.6" ry="2.6" transform="rotate(-5 539.4 246.9)" fill="#fff" stroke-width="1.9"/>
<path d="M534.7 245.5C533.6 244.7 529.4 242.4 528.1 240.3C526.9 238.2 526.7 235.1 527.2 232.8C527.6 230.5 528.9 228 530.9 226.2C533 224.5 536.1 223.1 539.4 222.5C542.6 221.9 548.7 222.5 550.6 222.5" stroke-width="2.5"/>
<ellipse cx="556.2" cy="224.4" rx="3.4" ry="2" transform="rotate(15 556.2 224.4)" fill="#444" stroke-width="1.9"/>
<path d="M559.6 225.9C560.4 226.4 563.1 227.8 564.7 229.1C566.2 230.3 567.8 231.9 569 233.4C570.1 234.9 571.2 237.3 571.6 238.1" stroke-width="2.5"/>
<ellipse cx="592.2" cy="227.7" rx="4" ry="2" transform="rotate(-22 592.2 227.7)" fill="#555" stroke-width="1.9"/>
<path d="M588.1 230C586.5 230.8 581.4 233.3 578.7 234.7C576.1 236.1 573.3 237.8 572.2 238.4" stroke-width="2.5"/>
<path d="M580.6 212.2L575 222.5" stroke-width="1.8"/>
<path d="M572.2 238.4C571.1 239.4 567.3 241.7 565.6 244C563.9 246.4 562.3 249.7 561.9 252.5C561.4 255.3 561.7 258.9 562.8 260.9C563.9 262.9 565.4 264.2 568.4 264.7C571.4 265.1 576.4 264.2 580.6 263.7C584.8 263.3 590.1 262 593.7 261.9C597.3 261.7 600.4 262.1 602.2 262.8C603.9 263.5 603.7 265.4 604 266" stroke-width="3.1"/>
<path d="M572.2 238.4C574.2 237.8 579.2 235.7 584.3 234.7C589.5 233.6 596.8 232.7 603.1 232.2C609.3 231.8 616.5 231.8 621.8 231.9C627.1 232 631.2 231.6 635 232.8C638.7 234.1 642 236.1 644.3 239.4C646.7 242.6 647.8 247.8 649 252.5C650.3 257.2 651.4 265 651.8 267.5" stroke-width="3.1"/>
<path d="M650 269L655.6 269L655.6 276.5L650 276.5Z" stroke-width="2.2" fill="#fff"/>
<path d="M604 264.7C604.5 263.3 605.3 259 606.8 256.2C608.4 253.5 612.3 249.7 613.4 248.4" stroke-width="1.8"/>
<ellipse cx="616.2" cy="247.8" rx="3.2" ry="2.3" transform="rotate(-15 616.2 247.8)" fill="#fff" stroke-width="1.8"/>
<path d="M604 264.7C604.5 263.8 604.7 261.1 606.8 259.5C609 257.9 615.4 255.7 617.2 254.9" stroke-width="1.8"/>
<ellipse cx="620" cy="254.4" rx="3.2" ry="2.3" transform="rotate(-15 620 254.4)" fill="#fff" stroke-width="1.8"/>
<path d="M604 264.7C604.5 264.4 604.5 263.3 606.8 262.8C609.2 262.3 616.2 261.7 618.1 261.5" stroke-width="1.8"/>
<ellipse cx="620.9" cy="260.9" rx="3.2" ry="2.3" transform="rotate(-15 620.9 260.9)" fill="#fff" stroke-width="1.8"/>
<path d="M604 265.6C603.8 267.2 603.5 272.5 602.7 275C601.9 277.5 600.2 277.5 599.3 280.6C598.5 283.7 597.8 291.5 597.5 293.7" stroke-width="2.2"/>
<ellipse cx="545.5" cy="298.8" rx="4.6" ry="3.4" transform="rotate(-20 545.5 298.8)" fill="#333" stroke-width="1.8"/>
<path d="M549.7 296.5C551.7 295.8 557 294.2 561.9 291.8C566.7 289.5 572.8 285.3 578.7 282.5C584.7 279.7 591.8 276.7 597.5 275C603.1 273.3 609.1 272.7 612.5 272.2C615.8 271.6 616.8 271.9 617.7 271.8" stroke-width="2.5"/>
<ellipse cx="621.3" cy="271.8" rx="3.2" ry="2.3" transform="rotate(0 621.3 271.8)" fill="#fff" stroke-width="1.8"/>
<path d="M549.7 297.8C552.3 297.5 559.8 296.1 565.6 295.6C571.4 295.1 578.1 294.8 584.3 294.7C590.6 294.5 598.4 294.6 603.1 294.7C607.8 294.8 610.9 295.1 612.5 295.2" stroke-width="2.8"/>
<path d="M612.5 295.2C613.4 294 616.5 290.1 618.1 288.1C619.7 286.1 621.2 284.2 621.8 283.4" stroke-width="1.8"/>
<ellipse cx="621.8" cy="283.4" rx="3.4" ry="2.6" transform="rotate(-30 621.8 283.4)" fill="#fff" stroke-width="1.8"/>
<path d="M612.5 295.2C614.2 294.9 619.7 293.8 622.8 293.3C625.9 292.8 629.8 292.4 631.2 292.2" stroke-width="1.8"/>
<ellipse cx="631.2" cy="292.2" rx="3.4" ry="2.6" transform="rotate(-30 631.2 292.2)" fill="#fff" stroke-width="1.8"/>
<path d="M612.5 295.2C614.2 296.2 619.8 299.5 622.8 300.8C625.7 302.2 629 302.7 630.3 303.1" stroke-width="1.8"/>
<ellipse cx="630.3" cy="303.1" rx="3.4" ry="2.6" transform="rotate(30 630.3 303.1)" fill="#fff" stroke-width="1.8"/>
<path d="M612.5 295.2C613.5 296.7 616.9 301.6 618.5 304C620 306.4 621.3 308.7 621.8 309.7" stroke-width="1.8"/>
<ellipse cx="621.8" cy="309.7" rx="3.4" ry="2.6" transform="rotate(30 621.8 309.7)" fill="#fff" stroke-width="1.8"/>
<path d="M545.9 301.2C544.5 301.8 539.4 303.1 537.5 305C535.6 306.8 534.7 310 534.7 312.5C534.7 315 535.5 318.2 537.5 320C539.5 321.7 543.1 322.6 546.9 322.8C550.6 322.9 555.9 321.8 560 320.9C564 320 567.8 317.9 571.2 317.2C574.7 316.4 578.4 315.7 580.6 316.2C582.8 316.7 583.7 319.3 584.3 320" stroke-width="3.4"/>
<path d="M531.9 310.6C530.8 311.2 526.6 312.2 525.3 314.3C524 316.5 523.5 320.9 524 323.7C524.5 326.5 525.9 329 528.1 331.2C530.4 333.4 535.1 335 537.5 336.8C539.8 338.7 541.1 340.3 542.2 342.5C543.3 344.6 545.1 351.1 544 350C543 348.8 535.9 336.8 535.6 335.6C535.3 334.5 540.6 340 542.2 343.1C543.7 346.2 543.8 351.4 545 354.4C546.1 357.3 548.4 359.8 549.1 360.9" stroke-width="3.6"/>
<ellipse cx="554.4" cy="360.9" rx="5.4" ry="3.8" transform="rotate(-40 554.4 360.9)" fill="#fff" stroke-width="2.2"/>
<path d="M579.7 332.1C578.3 331.7 575.2 329.9 571.2 329.3C567.3 328.8 558.6 328.9 556 328.8" stroke-width="1.7"/>
<ellipse cx="553.4" cy="328.4" rx="3" ry="2" transform="rotate(30 553.4 328.4)" fill="#fff" stroke-width="1.6"/>
<path d="M579.7 332.1C578.3 331.9 575.3 330.5 571.2 330.8C567.1 331.2 557.8 333.8 555.1 334.4" stroke-width="1.7"/>
<ellipse cx="552.5" cy="334" rx="3" ry="2" transform="rotate(30 552.5 334)" fill="#fff" stroke-width="1.6"/>
<path d="M579.7 332.1C578.3 332.2 574.9 331.2 571.2 332.3C567.6 333.5 560.1 338 557.9 339.1" stroke-width="1.7"/>
<ellipse cx="555.3" cy="338.7" rx="3" ry="2" transform="rotate(30 555.3 338.7)" fill="#fff" stroke-width="1.6"/>
<path d="M579.7 332.1C578.3 332.4 574.2 332.4 571.2 333.8C568.2 335.3 563.3 339.8 561.7 341" stroke-width="1.7"/>
<ellipse cx="559" cy="342.5" rx="3" ry="2" transform="rotate(30 559 342.5)" fill="#fff" stroke-width="1.6"/>
<path d="M579.7 332.1C578.3 332.7 573.1 333.4 571.2 335.3C569.3 337.3 568.7 342.4 568.2 343.8" stroke-width="1.7"/>
<ellipse cx="565.6" cy="345.3" rx="3" ry="2" transform="rotate(30 565.6 345.3)" fill="#fff" stroke-width="1.6"/>
<path d="M579.7 332.1C580.1 331.1 581.7 327.6 582.5 325.6C583.3 323.6 584 320.9 584.3 320" stroke-width="2.8"/>
<ellipse cx="605.9" cy="333.5" rx="3" ry="2" transform="rotate(0 605.9 333.5)" fill="#fff" stroke-width="1.6"/>
<ellipse cx="605" cy="339.6" rx="3" ry="2" transform="rotate(0 605 339.6)" fill="#fff" stroke-width="1.6"/>
<ellipse cx="602.2" cy="347.8" rx="3.2" ry="2.2" transform="rotate(0 602.2 347.8)" fill="#fff" stroke-width="1.6"/>
<path d="M588.1 354.4C588.6 353.1 589.7 349.4 590.9 346.9C592.2 344.4 593.7 341.5 595.6 339.4C597.5 337.2 601.1 335 602.2 334.1" stroke-width="2.1"/>
<path d="M591.8 345C592.8 344.4 595.8 342.4 597.5 341.6C599.2 340.9 601.4 340.7 602.2 340.5" stroke-width="1.8"/>
<path d="M590 349.7C590.9 349.4 594 348.3 595.6 348C597.2 347.7 598.7 347.8 599.3 347.8" stroke-width="1.8"/>
<path d="M601.2 269.4C600 274 596.2 288.7 593.7 297.5C591.2 306.2 588.1 316.4 586.2 321.8C584.3 327.3 584.3 324 582.5 330C580.6 336 577.8 347.8 575 358.1C572.2 368.4 568.7 380.9 565.6 391.9C562.5 402.8 559 414.7 556.2 423.7C553.4 432.8 550.9 440.3 548.7 446.2C546.5 452.1 544 457.1 543.1 459.3" stroke-width="2.9"/>
<path d="M590 348.7C588.7 352.5 585 364.1 582.5 371.2C580 378.4 577.5 385 575 391.9C572.5 398.7 570 405.3 567.5 412.5C565 419.7 562.2 428.7 560 435C557.8 441.2 555.9 446.2 554.4 450C552.9 453.7 551.5 456.2 551 457.5" stroke-width="2.2"/>
<path d="M522.5 337.5C520.6 344.1 515 363.1 511.2 376.9C507.5 390.6 501.9 412.8 500 420" stroke-width="1.8"/>
<path d="M538.4 358.1C536.7 365.9 531.7 388.4 528.1 405C524.5 421.5 518.7 448.7 516.9 457.5" stroke-width="1.8"/>
<path d="M544 369.4C542.3 376.9 537.2 399.7 533.7 414.3C530.3 429 525.1 450.3 523.4 457.5" stroke-width="1.8"/>
<path d="M561.9 243.1C560.3 246.2 555.6 255.3 552.5 261.9C549.4 268.4 545.6 277.2 543.1 282.5C540.6 287.8 538.4 291.8 537.5 293.7" stroke-width="1.8"/>
<path d="M569.4 271.2L563.7 286.2" stroke-width="1.8"/>
<path d="M522.5 336.8L517.8 350" stroke-width="1.8"/>
<path d="M575 386.2C576.2 384.7 579.4 379.5 582.5 376.9C585.6 374.2 590 371.7 593.7 370.3C597.5 368.9 602.2 369.8 605 368.4C607.8 367.1 609.1 363.8 610.6 362.2C612.1 360.7 613.4 359.6 614 359.1" stroke-width="2.2"/>
<ellipse cx="615.7" cy="357.7" rx="3.2" ry="2.2" transform="rotate(-50 615.7 357.7)" fill="#fff" stroke-width="1.6"/>
<path d="M605 368.4C606.2 368.9 610.4 370.6 612.5 371.2C614.5 371.9 616.4 372 617.2 372.2" stroke-width="2"/>
<ellipse cx="619.6" cy="372.2" rx="3.2" ry="2.2" transform="rotate(0 619.6 372.2)" fill="#fff" stroke-width="1.6"/>
<path d="M573.1 391.9C574.4 391.7 578.1 390.8 580.6 390.9C583.1 391.1 585.9 392.3 588.1 392.8C590.3 393.3 592.8 393.6 593.7 393.7" stroke-width="2.2"/>
<path d="M593.7 393.7C593.9 392.5 594.3 388.1 594.7 386.2C595.1 384.4 595.9 383.1 596.2 382.5" stroke-width="1.8"/>
<ellipse cx="596.7" cy="380.6" rx="3" ry="2.1" transform="rotate(-70 596.7 380.6)" fill="#fff" stroke-width="1.6"/>
<path d="M593.7 393.7L598.4 393.4" stroke-width="1.8"/>
<ellipse cx="601.2" cy="393.2" rx="3" ry="2.1" transform="rotate(0 601.2 393.2)" fill="#fff" stroke-width="1.6"/>
<path d="M593.7 394.7C594.3 395.4 596.2 397.9 597.1 399C598 400.1 598.7 400.9 599 401.2" stroke-width="1.8"/>
<ellipse cx="600.7" cy="402.7" rx="3" ry="2.1" transform="rotate(40 600.7 402.7)" fill="#fff" stroke-width="1.6"/>
<ellipse cx="611" cy="383.8" rx="3.2" ry="2.2" transform="rotate(70 611 383.8)" fill="#fff" stroke-width="1.8"/>
<path d="M612.5 386.2C612.8 387.5 614.2 390.6 614.7 393.7C615.2 396.9 615.7 400 615.3 405C614.9 410 613.6 417.5 612.5 423.7C611.4 430 610.3 435.6 608.7 442.5C607.2 449.3 604.7 459.3 603.1 465C601.5 470.6 600 474.9 599.3 476.2C598.7 477.5 600 470.9 599.3 472.5C598.7 474.1 596.8 481.6 595.6 485.6C594.3 489.7 593.1 493.7 591.8 496.9C590.6 500 589.6 502.6 588.1 504.4C586.5 506.1 584.6 507.2 582.5 507.2C580.3 507.2 577.5 505.9 575 504.4C572.5 502.8 569.6 500 567.5 497.8C565.3 495.6 562.8 492.3 561.8 491.2" stroke-width="2.8"/>
<path d="M561.9 431.2C562.3 433.1 563.7 438.1 564.7 442.5C565.6 446.8 566.1 453.1 567.5 457.5C568.9 461.8 571.2 465.6 573.1 468.7C575 471.8 579 471.5 578.7 476.2C578.4 480.9 571.5 492.2 571.2 496.9C570.9 501.6 575.9 503.1 576.8 504.4" stroke-width="2.8"/>
<path d="M565.6 429.3C566.5 431.5 570.1 437.2 571.2 442.5C572.3 447.8 571.2 456.2 572.2 461.2C573.1 466.2 576.1 470.6 576.9 472.5" stroke-width="2.1"/>
<path d="M566.5 412.5C567.8 412.2 572.2 409.7 574 410.6C575.9 411.5 576.9 415.3 577.8 418.1C578.7 420.9 578.6 425 579.7 427.5C580.8 430 582.9 432.5 584.3 433.1C585.8 433.7 587.3 432.8 588.1 431.2C588.9 429.7 589.2 425 589.4 423.7" stroke-width="2.2"/>
<ellipse cx="590.2" cy="420" rx="3" ry="2.1" transform="rotate(-70 590.2 420)" fill="#fff" stroke-width="1.6"/>
<path d="M584.3 433.1C585.3 432.6 588.3 431.2 590 430.3C591.6 429.3 593.4 427.9 594.1 427.5" stroke-width="1.8"/>
<ellipse cx="596" cy="426.2" rx="3" ry="2.1" transform="rotate(-30 596 426.2)" fill="#fff" stroke-width="1.6"/>
<path d="M593.7 427.5L598.4 422.8" stroke-width="1.8"/>
<ellipse cx="602.2" cy="416.6" rx="3.2" ry="2.2" transform="rotate(-60 602.2 416.6)" fill="#fff" stroke-width="1.6"/>
<ellipse cx="601.2" cy="423.7" rx="3" ry="2.1" transform="rotate(-40 601.2 423.7)" fill="#fff" stroke-width="1.6"/>
<path d="M602.2 419C602.8 420.1 605 422.9 605.9 425.6C606.8 428.3 607.5 433.4 607.8 435" stroke-width="1.8"/>
<path d="M584.3 434L583.4 444.3" stroke-width="2"/>
<ellipse cx="582.5" cy="447.2" rx="3" ry="2.1" transform="rotate(-40 582.5 447.2)" fill="#fff" stroke-width="1.6"/>
<ellipse cx="583.4" cy="454.6" rx="3" ry="2.1" transform="rotate(-40 583.4 454.6)" fill="#fff" stroke-width="1.6"/>
<ellipse cx="586.6" cy="463.5" rx="3" ry="2.1" transform="rotate(-40 586.6 463.5)" fill="#fff" stroke-width="1.6"/>
<ellipse cx="596" cy="447.7" rx="3" ry="2.1" transform="rotate(-40 596 447.7)" fill="#fff" stroke-width="1.6"/>
<ellipse cx="592.2" cy="453.3" rx="3" ry="2.1" transform="rotate(-40 592.2 453.3)" fill="#fff" stroke-width="1.6"/>
<ellipse cx="590" cy="469.6" rx="3" ry="2.1" transform="rotate(-40 590 469.6)" fill="#fff" stroke-width="1.6"/>
<path d="M578.7 468.7C579.4 467.5 581.4 462 582.5 461.2C583.6 460.4 584.8 463.6 585.3 464" stroke-width="1.8"/>
<path d="M582.5 459.3L583.4 456" stroke-width="1.8"/>
<path d="M593.7 455.2C594.7 455.9 598.1 457.1 599.3 459.3C600.6 461.6 600.9 467.1 601.2 468.7" stroke-width="1.8"/>
<path d="M596.5 450L600.3 455.6" stroke-width="1.8"/>
<ellipse cx="583.4" cy="454.7" rx="2.6" ry="1.9" transform="rotate(-50 583.4 454.7)" fill="#fff" stroke-width="1.5"/>
<ellipse cx="592.8" cy="453.7" rx="2.6" ry="1.9" transform="rotate(-50 592.8 453.7)" fill="#fff" stroke-width="1.5"/>
<ellipse cx="588.1" cy="462.2" rx="2.6" ry="1.9" transform="rotate(-50 588.1 462.2)" fill="#fff" stroke-width="1.5"/>
<ellipse cx="590" cy="469.7" rx="2.6" ry="1.9" transform="rotate(-50 590 469.7)" fill="#fff" stroke-width="1.5"/>
<ellipse cx="587.1" cy="475.3" rx="2.6" ry="1.9" transform="rotate(-50 587.1 475.3)" fill="#fff" stroke-width="1.5"/>
<ellipse cx="583.4" cy="480.9" rx="2.6" ry="1.9" transform="rotate(-50 583.4 480.9)" fill="#fff" stroke-width="1.5"/>
<ellipse cx="578.7" cy="487.5" rx="2.6" ry="1.9" transform="rotate(-50 578.7 487.5)" fill="#fff" stroke-width="1.5"/>
<ellipse cx="580.6" cy="495" rx="2.6" ry="1.9" transform="rotate(-50 580.6 495)" fill="#fff" stroke-width="1.5"/>
<ellipse cx="574" cy="492.2" rx="2.6" ry="1.9" transform="rotate(-50 574 492.2)" fill="#fff" stroke-width="1.5"/>
<ellipse cx="573.5" cy="499.1" rx="2.6" ry="1.9" transform="rotate(-50 573.5 499.1)" fill="#fff" stroke-width="1.5"/>
<path d="M583.4 456.6C583.2 458 583.9 462.7 582.5 465C581 467.3 576.8 468.4 575 470.6C573.1 472.8 571.8 476.9 571.2 478.1" stroke-width="1.7"/>
<path d="M588.1 464.1C587.1 464.8 584.3 467.8 582.5 468.7C580.6 469.7 577.8 469.5 576.8 469.7" stroke-width="1.7"/>
<path d="M589 471.6C588.2 471.9 586 472.3 584.3 473.4C582.6 474.5 580.4 476.1 578.7 478.1C577 480.1 574.8 484.4 574 485.6" stroke-width="1.7"/>
<path d="M582.5 481.9L577.8 484.7" stroke-width="1.7"/>
<path d="M563.7 450C563.6 451.9 562.8 456.9 562.8 461.2C562.8 465.6 562.9 471.9 563.7 476.2C564.5 480.6 566.2 484.1 567.5 487.5C568.7 490.9 570.6 495.3 571.2 496.9" stroke-width="2.8"/>
<path d="M463.3 526.9C464.6 525.8 468.5 523.5 471 520.1C473.6 516.8 475.4 511.3 478.5 507C481.6 502.6 485.6 497.7 489.6 494.1C493.6 490.4 497.5 487.4 502.4 484.9C507.3 482.5 514.1 480.6 519 479.4C524 478.1 529.1 478.8 532.3 477.4C535.6 476.1 537 473.2 538.5 471.4C540 469.6 540.9 467.4 541.4 466.6" stroke-width="1.8"/>
<path d="M461.6 524.9C462.9 523.9 466.5 521.8 469 518.6C471.4 515.3 473.3 509.9 476.4 505.5C479.6 501.1 483.7 496 487.9 492.2C492 488.3 496.2 485.1 501.3 482.6C506.4 480 513.4 478.1 518.4 476.9C523.4 475.6 528.4 476.2 531.4 475C534.4 473.9 535.2 471.4 536.5 469.8C537.8 468.2 538.7 466 539.2 465.3" stroke-width="1.8"/>
<path d="M531.8 476.2C532.8 476.4 535.3 476.6 537.5 477.2C539.7 477.8 542.3 478.8 545 480C547.6 481.2 552 483.6 553.4 484.3" stroke-width="3.1"/>
<ellipse cx="557.2" cy="486.6" rx="4" ry="2.4" transform="rotate(35 557.2 486.6)" fill="#fff" stroke-width="1.8"/>
<path d="M560 489.4C560.6 490 562.1 491.9 563.7 493.5C565.3 495.1 567.5 497.3 569.3 499.1C571.2 500.9 574 503.5 575 504.4" stroke-width="2.8"/>
<path d="M483.1 540C483.6 541.8 485.3 547.8 485.9 551.2C486.5 554.7 486.7 559 486.9 560.6" stroke-width="2.1"/>
<path d="M483.1 537.2C485.3 537.3 492.2 538.4 496.2 538.1C500.3 537.8 504 536.8 507.5 535.3C510.9 533.7 514.4 531.4 516.9 528.7C519.4 526.1 520.9 522.5 522.5 519.4C524 516.2 524.7 512.6 526.2 510C527.8 507.3 530.3 504.4 531.8 503.4C533.4 502.5 534.7 503.3 535.6 504.4C536.5 505.5 536.8 508.1 537.5 510C538.1 511.9 538.1 513.7 539.3 515.6C540.6 517.5 543.4 520.1 545 521.2C546.5 522.3 548.1 522 548.7 522.2" stroke-width="2.5"/>
<path d="M483.1 538.1C485.3 538.9 491.5 541.5 496.2 542.8C500.9 544 506.2 545 511.2 545.6C516.2 546.2 521.5 546.7 526.2 546.5C530.9 546.4 535.9 545.8 539.3 544.7C542.8 543.6 545 542 546.8 540C548.7 537.9 549.8 535.6 550.6 532.5C551.4 529.4 551.5 525 551.5 521.2C551.5 517.5 550.7 511.9 550.6 510" stroke-width="2.5"/>
<ellipse cx="547.8" cy="505.9" rx="4" ry="1.8" transform="rotate(0 547.8 505.9)" fill="#fff" stroke-width="1.8"/>
<path d="M485.9 532.5C486.4 530.6 488.1 525 488.7 521.2C489.4 517.5 488.7 513.4 489.7 510C490.6 506.5 492.3 503 494.4 500.6C496.4 498.3 499.9 496.9 501.9 495.9C503.8 495 505.3 495.1 506 495" stroke-width="2.2"/>
<ellipse cx="509.5" cy="495" rx="3.8" ry="2.4" transform="rotate(0 509.5 495)" fill="#444" stroke-width="1.8"/>
<path d="M513.5 494.2C514.4 494.1 515.4 493.7 518.7 493.5C522.1 493.2 529.3 492.5 533.7 492.7C538.1 493 541.5 493.5 545 495C548.4 496.5 551.5 499.4 554.3 501.5C557.2 503.7 559.7 506.5 561.8 508.1C564 509.7 566.5 510.4 567.5 510.9" stroke-width="2.2"/>
<path d="M489.7 508.1C490.8 507.8 494.5 506.4 496.2 506.2C498 506 499.7 506.9 500.4 507" stroke-width="1.8"/>
<ellipse cx="503.7" cy="507.2" rx="3.4" ry="2.4" transform="rotate(0 503.7 507.2)" fill="#fff" stroke-width="1.8"/>
<path d="M490.6 514.7L494.9 515.6" stroke-width="1.8"/>
<ellipse cx="498.5" cy="515.8" rx="3.4" ry="2.4" transform="rotate(0 498.5 515.8)" fill="#fff" stroke-width="1.8"/>
<ellipse cx="537.5" cy="510" rx="3.2" ry="2.2" transform="rotate(60 537.5 510)" fill="#fff" stroke-width="1.6"/>
<ellipse cx="533.2" cy="522.2" rx="3.2" ry="2.2" transform="rotate(60 533.2 522.2)" fill="#fff" stroke-width="1.6"/>
<ellipse cx="543.1" cy="531.5" rx="3.2" ry="2.2" transform="rotate(60 543.1 531.5)" fill="#fff" stroke-width="1.6"/>
<path d="M530 514.7C530.6 515.1 532.6 515.8 533.7 517.5C534.8 519.2 535.9 522.5 536.5 525C537.2 527.5 537.3 531.2 537.5 532.5" stroke-width="1.8"/>
<ellipse cx="570.6" cy="512.4" rx="3.8" ry="2.8" transform="rotate(70 570.6 512.4)" fill="#fff" stroke-width="1.9"/>
<path d="M575 514.7L582.5 518.4" stroke-width="3.6"/>
<path d="M561.3 510.5L566.9 511.9" stroke-width="1.7"/>
<ellipse cx="566.5" cy="524.4" rx="3.8" ry="2.8" transform="rotate(70 566.5 524.4)" fill="#fff" stroke-width="1.9"/>
<path d="M571.2 526.9L577.8 531.5" stroke-width="3.6"/>
<path d="M557.2 522.5L562.8 523.9" stroke-width="1.7"/>
<ellipse cx="562.2" cy="535.8" rx="3.8" ry="2.8" transform="rotate(70 562.2 535.8)" fill="#fff" stroke-width="1.9"/>
<path d="M566.5 538.1L574 541.8" stroke-width="3.6"/>
<path d="M552.8 534L558.5 535.3" stroke-width="1.7"/>
<path d="M369.4 896.2C376.5 897.2 395.9 898.7 412.5 901.9C429 905 450 909.7 468.7 915C487.4 920.3 506.2 927.2 524.9 933.7C543.7 940.3 562 948.4 581.2 954.3C600.3 960.3 623.9 964.7 640 969.3C656.1 974 661.9 977.2 677.5 982.5C693.1 987.8 715 995 733.7 1001.2C752.5 1007.5 774.3 1014.6 790 1020C805.6 1025.3 815.6 1028.7 827.4 1033.1C839.3 1037.4 855.6 1044 861.2 1046.2" stroke-width="2.1"/>
<path d="M666.2 980.6L692.5 993.7" stroke-width="2"/>
<path d="M637.4 986.2C628 982.8 599.9 972.2 581.2 965.6C562.4 959 540.5 951.7 524.9 946.9C509.3 942 495.3 938.4 487.4 936.7C479.6 935 480.6 936.1 478.1 936.7C475.6 937.4 473.9 938.8 472.4 940.5C471 942.2 470.7 943 469.4 946.9C468.2 950.7 468.2 950.3 464.9 963.7C461.7 977.2 455.6 1004.3 450 1027.5C444.3 1050.6 438.1 1079.7 431.2 1102.4C424.3 1125.1 412.8 1151.6 408.7 1163.7C404.7 1175.8 406.2 1171.5 406.8 1175C407.5 1178.4 409 1182 412.5 1184.4C415.9 1186.7 421.2 1187.7 427.5 1189.2C433.7 1190.8 441.8 1191.9 450 1193.7C458.1 1195.6 471.8 1199.4 476.2 1200.5" stroke-width="2.1"/>
<path d="M810.6 1053.7C807.1 1052.1 799.6 1048.4 790 1044.3C780.3 1040.3 765 1034.3 752.5 1029.3C740 1024.3 723.4 1017.3 715 1014.3C706.5 1011.4 705.6 1011.4 701.9 1011.7C698.1 1012 694.7 1014.2 692.5 1016.2C690.3 1018.2 690 1016.8 688.7 1023.7C687.5 1030.6 686.9 1045.6 685 1057.4C683.1 1069.3 680 1083.7 677.5 1094.9C675 1106.2 672.2 1117.1 670 1124.9C667.8 1132.7 665.3 1139 664.4 1141.8" stroke-width="2.1"/>
<path d="M328.1 1189.2C335.9 1191.2 360.9 1197 375 1201.2C389 1205.4 401.2 1210.3 412.5 1214.3C423.7 1218.4 437.5 1223.7 442.5 1225.6" stroke-width="2"/>
<path d="M386.2 1199.4C390.6 1200.3 401.8 1202.5 412.5 1205C423.1 1207.5 439.3 1211.2 450 1214.3C460.6 1217.5 471.8 1222.2 476.2 1223.7" stroke-width="2"/>
<path d="M494.9 1225.6L524.9 1236.8" stroke-width="2"/>
<path d="M509.9 1218.1L539.9 1228.2" stroke-width="2"/>
<path d="M554.9 1233.1L573.7 1238.7" stroke-width="2"/>
<path d="M558.7 1246.2L584.9 1257.5" stroke-width="2"/>
<path d="M309.4 1285.6C317.2 1286.2 339.1 1288.5 356.2 1289.3C373.4 1290.1 393.7 1290.8 412.5 1290.4C431.2 1290.1 454.3 1288.7 468.7 1287.5C483.1 1286.2 492.1 1284.5 498.7 1283C505.2 1281.4 506.2 1280.1 508.1 1278.1C509.9 1276 510.9 1273.7 509.9 1270.6C509 1267.5 506.2 1263.1 502.4 1259.3C498.7 1255.6 492.4 1251.2 487.4 1248.1C482.4 1245 474.9 1241.8 472.4 1240.6" stroke-width="2.1"/>
<path d="M313.1 1296.8C320.3 1297.3 339.7 1299 356.2 1299.4C372.8 1299.9 393.7 1299.9 412.5 1299.4C431.2 1299 453.7 1298.2 468.7 1296.8C483.7 1295.4 494.9 1293.4 502.4 1291.2C509.9 1289 511.3 1286.5 513.7 1283.7C516.1 1280.9 517.3 1277.8 516.7 1274.3C516.1 1270.9 511.1 1265 509.9 1263.1" stroke-width="2.1"/>
<path d="M322.5 1390C323 1389.1 323.8 1386.3 325.5 1384.7C327.2 1383.1 328.5 1381.8 333 1380.2C337.5 1378.6 344.2 1376.9 352.5 1375C360.8 1373.1 372.5 1370.9 382.5 1369C392.5 1367.1 400 1365.6 412.5 1363.7C425 1361.8 443.7 1358.9 457.5 1357.6C471.2 1356.2 483.1 1356.1 494.9 1355.7C506.8 1355.2 523.1 1355.1 528.7 1354.9" stroke-width="2.1"/>
<path d="M551.2 1356.8C556.2 1357.2 571.8 1357.6 581.2 1359.4C590.5 1361.3 600.5 1364.7 607.4 1368.1C614.3 1371.4 619.3 1375.2 622.4 1379.3C625.5 1383.4 625.5 1390.2 626.1 1392.4" stroke-width="2.1"/>
<path d="M321.5 1392.5C322 1391.1 325.4 1390.2 326.5 1391C327.6 1391.8 328.8 1396.1 328.3 1397.5C327.8 1398.9 324.4 1400.1 323.3 1399.3C322.2 1398.5 321 1393.9 321.5 1392.5Z" stroke-width="2.1"/>
<path d="M264.5 1486C267.5 1486.4 275.8 1487.5 282.5 1488.2C289.2 1488.9 299.2 1490 305 1490.2C310.8 1490.5 313.5 1490.4 317 1489.7C320.5 1489 323.8 1487.6 326 1486C328.2 1484.4 329.2 1482.8 330.5 1480C331.8 1477.2 332.2 1474 333.5 1469.5C334.8 1465 336 1458.8 338 1453C340 1447.2 342.3 1440.5 345.5 1435C348.7 1429.5 352.6 1424.8 357 1420C361.4 1415.2 366.5 1410.4 372 1406.5C377.5 1402.6 383.2 1399.5 390 1396.7C396.8 1394 405.8 1391.5 412.5 1390C419.2 1388.5 425 1388.1 430 1387.7C435 1387.3 434.1 1387.3 442.5 1387.5C450.8 1387.8 468.7 1388.3 479.9 1389.4C491.2 1390.5 499.9 1391.6 509.9 1394.3C519.9 1397 531.2 1401.2 539.9 1405.5C548.7 1409.9 556.6 1415.4 562.4 1420.5C568.3 1425.6 570.4 1431.1 575 1436.2C579.6 1441.3 585 1444.4 590 1451.2C595 1458.1 601.2 1470.6 605 1477.5C608.7 1484.3 611.2 1490 612.5 1492.5" stroke-width="2.2"/>
<path d="M612.5 1492.5C616.2 1493.1 625 1495 635 1496.2C645 1497.5 660 1499.5 672.5 1500C685 1500.5 703.7 1499.3 710 1499.2" stroke-width="2.2"/>
<path d="M605 1477.5C610 1478 620.6 1479.5 635 1480.5C649.3 1481.4 681.8 1482.7 691.2 1483.1" stroke-width="2"/>
<path d="M730.6 1485C735.9 1484.5 753.4 1483.8 762.4 1482C771.5 1480.1 781.2 1475.1 784.9 1473.7" stroke-width="2"/>
<path d="M586.2 1451.2C591.2 1451.9 605.6 1453.9 616.2 1455C626.9 1456.1 644.3 1457.5 650 1458" stroke-width="2"/>
<path d="M312.7 1417.7C312.4 1418.2 311.3 1419.6 311.2 1421C311.1 1422.4 311.4 1424.3 312 1426C312.6 1427.7 313.5 1430 315 1431.2C316.5 1432.5 319.2 1433.4 321 1433.5C322.8 1433.6 322.2 1433.9 325.5 1432C328.8 1430.1 337.3 1424.5 340.5 1422.2C343.7 1420 343.8 1419.1 344.5 1418.5" stroke-width="2.4"/>
<path d="M312.7 1417.7C315.1 1416.3 323.9 1411.3 327 1409.5C330.1 1407.7 330.3 1407.2 331 1406.8" stroke-width="2.4"/>
<ellipse cx="339.7" cy="1411.7" rx="5.2" ry="7.6" transform="rotate(-30 339.7 1411.7)" fill="#fff" stroke-width="2.1"/>
<ellipse cx="340.3" cy="1411.7" rx="3.6" ry="6" transform="rotate(-30 340.3 1411.7)" fill="#fff" stroke-width="1.6"/>
<ellipse cx="328.5" cy="1405" rx="3.7" ry="2.7" transform="rotate(-20 328.5 1405)" fill="#fff" stroke-width="1.9"/>
<path d="M644.9 1201.2C644 1203.7 640.8 1210.6 639.3 1216.2C637.7 1221.8 635.8 1228.7 635.5 1235C635.2 1241.2 635.2 1247.5 637.4 1253.7C639.6 1260 643.6 1267.1 648.6 1272.5C653.6 1277.8 658.8 1281.2 667.4 1285.6C675.9 1290 694.6 1296.5 700 1298.7" stroke-width="2.1"/>
<path d="M840.6 1119.3C840.2 1124.6 839.3 1143.1 838.7 1151.2C838.1 1159.2 838.1 1158.5 836.8 1167.5C835.6 1176.5 833.4 1190.6 831.2 1205C829 1219.3 826.5 1238.1 823.7 1253.7C820.9 1269.3 817.8 1284.3 814.3 1298.7C810.9 1313.1 807.1 1327.4 803.1 1339.9C799 1352.4 793.4 1365.6 790 1373.7C786.5 1381.8 783.7 1386.2 782.5 1388.7" stroke-width="2.1"/>
<path d="M888.5 1087.4L890.4 1113.7" stroke-width="1.8"/>
<path d="M889.3 1175C889 1180 888.7 1191.9 887.4 1205C886.2 1218.1 884 1238.1 881.8 1253.7C879.6 1269.3 877.1 1286 874.3 1298.7C871.5 1311.4 867.2 1321.7 865 1330C862.8 1338.3 862.2 1344.6 861.2 1348.7C860.2 1352.8 859.6 1353.5 859.3 1354.4" stroke-width="2.1"/>
<path d="M867.8 1125.6C868.1 1123.9 868.9 1117.3 869.7 1115.3C870.4 1113.3 868.9 1113.6 872.5 1113.4C876.1 1113.3 886.5 1112.9 891.2 1114.3C895.9 1115.8 897.8 1118.7 900.6 1121.8C903.4 1125 906.4 1129 908.1 1133.1C909.8 1137.2 910.7 1141.5 910.9 1146.2C911 1150.9 910.1 1156.8 909 1161.2C907.9 1165.6 906 1169.3 904.3 1172.5C902.6 1175.6 899.7 1177.7 898.7 1180C897.8 1182.2 899.9 1184.6 898.7 1186.2C897.4 1187.9 892.7 1191.9 891.2 1190C889.6 1188.1 889.6 1177.5 889.3 1175" stroke-width="2.2"/>
<path d="M868.7 1136.8C870 1137.2 874 1136.2 876.2 1138.7C878.4 1141.2 880 1147.8 881.8 1151.8C883.7 1155.9 886.5 1161.2 887.5 1163.1" stroke-width="2.1"/>
<path d="M867.8 1125.6L866.8 1135" stroke-width="2.1"/>
<path d="M891.2 1136.8L910 1155.6" stroke-width="2.1"/>
<path d="M822.8 1376.9C823.1 1375.8 824.8 1369.9 825.6 1367.5C826.4 1365.1 828.5 1358.8 829.3 1356.2C830.2 1353.7 830.7 1347 833.1 1345.9C835.5 1344.8 846.9 1345.9 850 1346.9C853 1347.9 857.6 1352 859.3 1354.4C861.1 1356.8 864 1364.9 864.9 1367.5C865.9 1370.1 867.8 1373.8 867.8 1376.9C867.8 1379.9 865.9 1390.2 864.9 1393.7C864 1397.2 861.1 1404.4 859.3 1406.9C857.6 1409.3 851.7 1413.3 850 1414.3C848.2 1415.4 845 1416 844.3 1416.2" stroke-width="2.2"/>
<path d="M831.2 1380.6C831.8 1381.9 833.1 1385.9 835 1388.1C836.8 1390.3 840.6 1390.9 842.5 1393.7C844.3 1396.5 845.9 1401.2 846.2 1405C846.5 1408.7 844.6 1414.3 844.3 1416.2" stroke-width="2.1"/>
<path d="M849 1366.6C850.1 1368.3 853.2 1373 855.6 1376.9C857.9 1380.8 861.8 1387.8 863.1 1390" stroke-width="2"/>
<path d="M822.8 1376.9C821.1 1379.4 816.7 1386.5 812.5 1391.9C808.2 1397.2 802.5 1403.4 797.5 1408.7C792.5 1414 786.2 1420.3 782.5 1423.7C778.7 1427.2 776.2 1428.4 775 1429.3" stroke-width="2.1"/>
<path d="M835 1388.1C833.7 1390.9 830.6 1399 827.5 1405C824.3 1410.9 820.6 1417.8 816.2 1423.7C811.8 1429.7 805.9 1436.2 801.2 1440.6C796.5 1445 790.3 1448.4 788.1 1450" stroke-width="2.1"/>
<path d="M846.2 1405C845 1408.1 841.8 1417.5 838.7 1423.7C835.6 1430 831.8 1436.5 827.5 1442.5C823.1 1448.4 818.1 1454.3 812.5 1459.3C806.8 1464.3 800.6 1469 793.7 1472.5C786.8 1475.9 778.9 1476.6 771.2 1480C763.5 1483.3 757.7 1489.3 747.4 1492.5C737.2 1495.7 716.2 1498.1 710 1499.2" stroke-width="2.2"/>
<path d="M734.7 1431.2C734 1432.2 729.7 1438.5 728.1 1440.6C726.5 1442.7 720.1 1450 718.7 1451.8C717.4 1453.7 713.1 1458.4 715 1459.3C716.9 1460.3 732.8 1461.2 737.5 1461.2C742.2 1461.2 759.4 1459.5 761.9 1459.3" stroke-width="2"/>
<path d="M698.7 1448.2C700.6 1448.2 709.7 1447.6 710 1447.9C710.2 1448.1 699.8 1450.2 700 1450C700.2 1449.7 707.2 1447.8 711.2 1446.2C715.3 1444.7 720.6 1442.5 724.4 1440.6C728.1 1438.7 732.2 1435.9 733.7 1435" stroke-width="2.1"/>
<ellipse cx="694.2" cy="1448.2" rx="3.4" ry="2.4" transform="rotate(0 694.2 1448.2)" fill="#fff" stroke-width="1.9"/>
<path d="M655 1280C656.2 1280.5 661.7 1282 662.5 1283C663.3 1283.9 655.6 1283.3 659.7 1285.6C663.7 1287.9 676.7 1292.5 686.9 1296.9C697 1301.2 713.4 1308.7 720.6 1311.9C727.8 1315 728.4 1315 730 1315.6" stroke-width="2"/>
<path d="M668.1 1280C672.8 1282 687.2 1288.3 696.2 1292.2C705.3 1296.1 718.1 1301.6 722.5 1303.4" stroke-width="2"/>
<path d="M755.3 1318.4C757.9 1319.7 765.7 1323.3 771.2 1325.9C776.7 1328.6 785.3 1333 788.1 1334.4" stroke-width="2"/>
<path d="M760 1328.7C762.8 1330.1 771.2 1334.4 776.8 1337.2C782.5 1340 790.9 1344.2 793.7 1345.6" stroke-width="2"/>
<ellipse cx="784" cy="1205.6" rx="16" ry="35.6" transform="rotate(3 784 1205.6)" fill="#fff" stroke-width="2"/>
<ellipse cx="783" cy="1207.5" rx="7.5" ry="16" transform="rotate(3 783 1207.5)" fill="#fff" stroke-width="1.9"/>
<path d="M721.2 1176.6C723.1 1174.5 728.1 1167.5 732.5 1164.4C736.9 1161.2 742.8 1158.9 747.5 1157.8C752.2 1156.7 757.2 1156.7 760.6 1157.8C764 1158.9 766.4 1161.1 768.1 1164.4C769.8 1167.6 770.4 1175.3 770.9 1177.5" stroke-width="2.1"/>
<path d="M720.3 1177.5C718.3 1179.7 711.2 1185.6 708.1 1190.6C705 1195.6 702.8 1201.9 701.6 1207.5C700.3 1213.1 700.3 1218.7 700.6 1224.3C700.9 1230 702.2 1235.9 703.4 1241.2C704.7 1246.5 707.3 1253.7 708.1 1256.2" stroke-width="2.1"/>
<path d="M728.7 1209.4C728.4 1211.2 726.5 1217.2 726.9 1220.6C727.2 1224 728.7 1227.8 730.6 1230C732.5 1232.2 735.9 1231.5 738.1 1233.7C740.3 1235.9 741.9 1239.7 743.7 1243.1C745.6 1246.5 746.9 1250.3 749.4 1254.3C751.9 1258.4 755.3 1264 758.7 1267.5C762.2 1270.9 766.2 1273.4 770 1275C773.7 1276.5 777.5 1277.5 781.2 1276.8C785 1276.2 789.7 1273.7 792.5 1271.2C795.3 1268.7 797.2 1263.4 798.1 1261.8" stroke-width="2.1"/>
<path d="M748.4 1176.6L760.6 1178.4L757.8 1196.2L744.7 1194.4Z" stroke-width="2.4" fill="#fff"/>
<path d="M744.7 1194.4L743.7 1199L756.9 1200.9L757.8 1196.2" stroke-width="2.2"/>
<path d="M745.6 1190.6L758.4 1192.5" stroke-width="3.4"/>
<path d="M642.5 988.5L650 989L650 995L643 995.5Z" stroke-width="1.8" fill="#fff"/>
<path d="M652.4 990.7C653.6 991.5 657.7 992.9 659.9 995.6C662.1 998.3 664.4 1001.5 665.5 1006.8C666.6 1012.1 666.9 1019 666.6 1027.5C666.3 1035.9 665.1 1046.2 663.6 1057.4C662.2 1068.7 659 1088.7 658 1094.9" stroke-width="2.1"/>
<path d="M642.2 1155.6C642.3 1157.8 642.6 1164 643.1 1168.7C643.6 1173.4 644 1179.3 645 1183.7C645.9 1188.1 648.1 1193.1 648.7 1195" stroke-width="2.1"/>
<path d="M641.2 1153.7C641.8 1152.8 643.4 1149.7 645 1148.1C646.5 1146.5 648.7 1144.9 650.6 1144.4C652.5 1143.8 655.6 1144.7 656.6 1144.7" stroke-width="2.2"/>
<ellipse cx="660.9" cy="1149.6" rx="3.4" ry="2.4" transform="rotate(50 660.9 1149.6)" fill="#fff" stroke-width="1.9"/>
<path d="M485.5 1113.2C485.8 1115.4 485.5 1122.8 487.6 1126C489.7 1129.2 493.8 1131.2 498.2 1132.5C502.5 1133.7 509.2 1133.8 513.8 1133.7C518.3 1133.5 523.4 1131.8 525.3 1131.4" stroke-width="2.1"/>
<path d="M489.4 1112.6C489.7 1114.5 489.4 1121.2 491 1123.8C492.6 1126.5 495.5 1127.6 499.2 1128.6C503 1129.6 509.4 1129.9 513.6 1129.7C517.8 1129.5 522.7 1127.8 524.5 1127.5" stroke-width="2.1"/>
<ellipse cx="527.2" cy="1128.3" rx="2.4" ry="2.6" transform="rotate(0 527.2 1128.3)" fill="#fff" stroke-width="1.6"/>
<path d="M570.8 1121.2C571.5 1118.5 573.7 1110.4 575.4 1105.2C577.1 1100.1 578.1 1094.9 581 1090.4C583.9 1086 588.5 1082.5 592.9 1078.7C597.4 1074.9 602.2 1070.2 607.7 1067.5C613.3 1064.9 618.2 1063.7 626.2 1062.7C634.3 1061.8 647.6 1061.7 656.1 1062C664.6 1062.2 667.6 1063.2 677.4 1064.2C687.2 1065.2 708.6 1067.4 714.9 1068" stroke-width="2.2"/>
<path d="M569.2 1120.7C570 1118 572.2 1109.9 573.9 1104.7C575.7 1099.6 576.6 1094.1 579.6 1089.6C582.6 1085 587.3 1081.4 591.9 1077.5C596.5 1073.5 601.4 1068.8 607.1 1066.1C612.8 1063.4 617.9 1062.1 626.1 1061.1C634.2 1060.2 647.6 1060.1 656.2 1060.4C664.7 1060.6 667.8 1061.6 677.6 1062.6C687.4 1063.6 708.8 1065.8 715.1 1066.4" stroke-width="2.2"/>
<path d="M715 1067.2C720.3 1067.9 739.3 1070.7 746.8 1071.7C754.3 1072.7 757.8 1072.8 760 1073" stroke-width="3.6"/>
<ellipse cx="753.2" cy="1072.4" rx="5" ry="2.2" transform="rotate(8 753.2 1072.4)" fill="#fff" stroke-width="1.6"/>
<path d="M760 1073.1C763.1 1073.9 772.5 1076.4 778.7 1077.8C785 1079.2 791.2 1080.3 797.5 1081.5C803.7 1082.8 813.1 1084.7 816.2 1085.3" stroke-width="3.6"/>
<ellipse cx="819.2" cy="1085.7" rx="2.4" ry="2.2" transform="rotate(0 819.2 1085.7)" fill="#fff" stroke-width="1.8"/>
<path d="M822.2 1085.9L831.6 1084.4" stroke-width="2.8"/>
<ellipse cx="835" cy="1082.9" rx="3.8" ry="2.4" transform="rotate(80 835 1082.9)" fill="#fff" stroke-width="1.9"/>
<path d="M837.2 1081.5C839 1080.5 844 1077.5 848.1 1075C852.2 1072.4 859.5 1067.6 861.8 1066.2" stroke-width="2.1"/>
<ellipse cx="864" cy="1064.7" rx="3.4" ry="2.5" transform="rotate(-35 864 1064.7)" fill="#fff" stroke-width="1.9"/>
<path d="M837.2 1081.5C839.4 1080.8 845 1078.1 850 1076.9C854.9 1075.6 864.2 1074.4 867 1073.9" stroke-width="2.1"/>
<ellipse cx="869.3" cy="1073.5" rx="3.4" ry="2.5" transform="rotate(-10 869.3 1073.5)" fill="#fff" stroke-width="1.9"/>
<path d="M837.2 1081.5C839.7 1081.3 847.1 1080 851.8 1080.2C856.6 1080.4 863.2 1082.3 865.5 1082.7" stroke-width="2.1"/>
<ellipse cx="867.8" cy="1082.9" rx="3.4" ry="2.5" transform="rotate(10 867.8 1082.9)" fill="#fff" stroke-width="1.9"/>
<path d="M837.2 1081.5C839 1081.7 844.2 1081.3 848.1 1082.5C852 1083.7 858.7 1087.6 860.8 1088.7" stroke-width="2.1"/>
<ellipse cx="863.1" cy="1090" rx="3.4" ry="2.5" transform="rotate(35 863.1 1090)" fill="#fff" stroke-width="1.9"/>
<ellipse cx="813.4" cy="1045.9" rx="3.6" ry="3" transform="rotate(40 813.4 1045.9)" fill="#555" stroke-width="1.9"/>
<path d="M816.2 1048.7C816.9 1049.4 818.4 1050.3 820 1052.5C821.5 1054.7 824.4 1058.7 825.6 1061.9C826.9 1065 827.5 1068.1 827.5 1071.2C827.5 1074.4 826.4 1078.3 825.6 1080.6C824.8 1083 823.3 1084.5 822.8 1085.3" stroke-width="2.5"/>
<path d="M824.7 1086.2C826.1 1087.5 830.8 1090.6 833.1 1093.7C835.4 1096.9 836.9 1101.2 838.7 1105C840.6 1108.7 841.8 1113.1 844.3 1116.2C846.8 1119.3 850 1122 853.7 1123.7C857.5 1125.4 862.8 1125.6 866.8 1126.5C870.9 1127.5 875 1127.6 878.1 1129.3C881.2 1131.1 883.9 1134.2 885.6 1136.8C887.3 1139.5 887.9 1143.9 888.4 1145.3" stroke-width="2.5"/>
<path d="M881.8 1132.2C883.4 1132.9 889 1134.7 891.2 1136.8C893.5 1139 894.6 1143.9 895.3 1145.3" stroke-width="2.2"/>
<ellipse cx="886" cy="1151.3" rx="3.2" ry="2.6" transform="rotate(90 886 1151.3)" fill="#fff" stroke-width="1.9"/>
<ellipse cx="896.3" cy="1151.3" rx="3.2" ry="2.6" transform="rotate(90 896.3 1151.3)" fill="#fff" stroke-width="1.9"/>
<path d="M309.4 1253.7C315.3 1253.7 334.1 1254.2 345 1253.7C355.9 1253.2 363.7 1252.6 375 1250.7C386.2 1248.8 400 1246.2 412.5 1242.5C425 1238.7 438.7 1233.8 450 1228.2C461.2 1222.6 471.2 1215.7 479.9 1208.7C488.7 1201.7 494.9 1194.4 502.4 1186.2C509.9 1178.1 518.7 1167.5 524.9 1160C531.2 1152.5 537.4 1144.4 539.9 1141.2" stroke-width="2.1"/>
<path d="M309.4 1258.2C315.3 1258.3 334.1 1258.9 345 1258.6C355.9 1258.3 363.7 1258.1 375 1256.3C386.2 1254.6 400 1251.8 412.5 1248.1C425 1244.4 438.7 1239.7 450 1234.2C461.2 1228.8 470.9 1222.2 479.9 1215.5C489 1208.7 496.2 1202 504.3 1193.7C512.4 1185.4 521.5 1174.4 528.7 1165.6C535.9 1156.9 544.3 1145.3 547.4 1141.2" stroke-width="2.1"/>
<path d="M313.1 1268C318.4 1268 334.7 1268.3 345 1268C355.3 1267.6 363.7 1267.1 375 1265.7C386.2 1264.3 400 1262.6 412.5 1259.3C425 1256.1 438.7 1251.2 450 1246.2C461.2 1241.2 471.2 1235.3 479.9 1229.3C488.7 1223.4 494.9 1217.8 502.4 1210.6C509.9 1203.4 518.1 1194 524.9 1186.2C531.8 1178.4 540.5 1167.5 543.7 1163.7" stroke-width="3.1"/>
<path d="M313.1 1271C318.4 1271 334.7 1271.3 345 1271C355.3 1270.6 363.7 1270.1 375 1268.7C386.2 1267.3 400 1265.5 412.5 1262.3C425 1259.1 438.7 1254.5 450 1249.6C461.2 1244.7 470.9 1239.2 479.9 1233.1C489 1227 496.4 1220.6 504.3 1213.2C512.2 1205.9 523.4 1192.9 527.2 1188.9" stroke-width="1.7"/>
<path d="M524.9 1160C527.4 1156.9 535.9 1147 539.9 1141.2C544 1135.5 546.2 1129.2 549.4 1125.6C552.5 1122.1 555.3 1120.8 558.7 1120C562.2 1119.2 567.3 1119.7 570 1120.9C572.6 1122.2 573.9 1123.9 574.7 1127.5C575.5 1131.1 575.8 1136.2 574.7 1142.5C573.6 1148.7 570.8 1156.5 568.1 1165C565.5 1173.4 561.9 1183.7 558.7 1193.1C555.6 1202.5 551.7 1213.4 549.4 1221.2C547 1229 545.5 1236.8 544.7 1240" stroke-width="2.1"/>
<path d="M528.7 1165.6C531.8 1161.6 543.7 1146.7 547.4 1141.2C551.2 1135.8 549 1135.6 551.2 1133.1C553.4 1130.7 557.8 1127.6 560.6 1126.6C563.4 1125.5 566.5 1125.8 568.1 1126.9C569.7 1128 570.1 1130.5 570.4 1133.1C570.7 1135.7 571.1 1137.2 570 1142.5C568.8 1147.8 566.1 1156.5 563.4 1165C560.8 1173.4 557 1183.7 554.1 1193.1C551.1 1202.5 547.7 1213.4 545.6 1221.2C543.6 1229 542.5 1236.8 541.9 1240" stroke-width="2.1"/>
<path d="M543.1 1163.1C542.7 1163.8 539.2 1168.6 540.7 1167.5C542.1 1166.3 547.8 1159.7 551.8 1156.3C555.9 1152.9 560.8 1149.4 564.8 1147C568.9 1144.6 572.3 1143.7 576 1141.8C579.7 1139.9 582.9 1137.6 587.2 1135.8C591.5 1134.1 597.5 1132.3 602.1 1131.2C606.7 1130.1 612.6 1129.6 614.7 1129.3" stroke-width="1.7"/>
<path d="M544.3 1164.4C543.4 1164.7 538.3 1167.8 539.3 1166.2C540.4 1164.7 546.6 1158.4 550.7 1154.9C554.8 1151.5 559.8 1147.9 563.9 1145.5C568 1143 571.4 1142.1 575.2 1140.2C579 1138.3 582.1 1135.9 586.5 1134.2C590.9 1132.4 597 1130.5 601.6 1129.4C606.3 1128.3 612.3 1127.8 614.5 1127.5" stroke-width="1.7"/>
<ellipse cx="617.2" cy="1128.4" rx="3" ry="3" transform="rotate(0 617.2 1128.4)" fill="#111" stroke-width="1.6"/>
<path d="M617.2 1126.6C617.8 1125.6 618.9 1122.3 620.6 1120.9C622.3 1119.5 625.3 1118 627.2 1118.1C629 1118.3 630.9 1119.7 631.8 1121.9C632.8 1124.1 633.1 1128.4 632.8 1131.2C632.5 1134 630.8 1136.5 630 1138.7C629.2 1140.9 628.4 1143.4 628.1 1144.4" stroke-width="2.2"/>
<ellipse cx="625.8" cy="1131.6" rx="2.4" ry="2.4" transform="rotate(0 625.8 1131.6)" fill="#fff" stroke-width="1.8"/>
<ellipse cx="619.7" cy="1143.4" rx="3.4" ry="2.6" transform="rotate(50 619.7 1143.4)" fill="#fff" stroke-width="1.9"/>
<path d="M615 1130.3C614.4 1132 612.3 1137 611.2 1140.6C610.1 1144.2 608.6 1148.7 608.4 1151.9C608.3 1155 610 1158.1 610.3 1159.4" stroke-width="2.2"/>
<ellipse cx="611.8" cy="1162.2" rx="3" ry="2" transform="rotate(60 611.8 1162.2)" fill="#111" stroke-width="1.6"/>
<path d="M608.4 1151.9L602.8 1156.5" stroke-width="2.2"/>
<ellipse cx="599.2" cy="1160.3" rx="3.4" ry="2.2" transform="rotate(-40 599.2 1160.3)" fill="#111" stroke-width="1.6"/>
<path d="M619.7 1145.3C620.1 1146.7 621.1 1150.4 622.5 1153.7C623.9 1157 625.9 1161.5 628.1 1165C630.3 1168.4 632.8 1170.6 635.6 1174.3C638.4 1178.1 641.5 1182.8 645 1187.5C648.4 1192.2 651.8 1197.2 656.2 1202.5C660.6 1207.8 666.5 1214.3 671.2 1219.3C675.9 1224.3 680.9 1229 684.3 1232.5C687.8 1235.9 690.6 1238.7 691.8 1240" stroke-width="2.5"/>
<ellipse cx="701.2" cy="1146.2" rx="4" ry="3" transform="rotate(-35 701.2 1146.2)" fill="#fff" stroke-width="2"/>
<path d="M697.5 1149C696.2 1150.1 692.8 1153.1 690 1155.6C687.1 1158.1 682.1 1162.6 680.6 1164" stroke-width="2.2"/>
<path d="M726.6 1186C725.4 1185.1 722.5 1182.5 719 1180.3C715.5 1178.1 710.5 1174.9 705.7 1172.7C700.9 1170.5 695.8 1168.3 690.4 1167C684.9 1165.7 677.9 1164.9 673 1165.1C668.1 1165.3 663.9 1166.1 660.8 1168.2C657.7 1170.3 655.5 1173.8 654.5 1177.6C653.4 1181.5 653.8 1186.6 654.4 1191.5C655.1 1196.4 655.8 1201.8 658.4 1207C660.9 1212.2 664.7 1217.2 669.9 1222.5C675.2 1227.8 684.7 1232.9 689.9 1238.7C695.1 1244.4 697.2 1250.9 700.9 1257.1C704.7 1263.3 708.8 1270.3 712.2 1275.9C715.6 1281.5 719.5 1286.9 721.5 1290.8C723.6 1294.7 722.8 1294.8 724.5 1299.4C726.3 1303.9 729.8 1311.9 732 1318.1C734.2 1324.3 736.2 1330.5 737.6 1336.6C739 1342.8 740 1349.6 740.4 1355.1C740.7 1360.6 740.2 1365.4 739.4 1369.7C738.7 1373.9 736.4 1378.8 735.8 1380.6" stroke-width="2.2"/>
<path d="M724.5 1188.9C723.3 1188 720.5 1185.5 717.1 1183.4C713.7 1181.2 708.8 1178.1 704.2 1176C699.6 1173.8 694.7 1171.7 689.5 1170.5C684.4 1169.3 677.6 1168.5 673.1 1168.6C668.7 1168.8 665.4 1169.5 662.8 1171.2C660.3 1172.8 658.8 1175.2 658 1178.6C657.1 1181.9 657.4 1186.5 658 1191C658.6 1195.5 659.2 1200.6 661.6 1205.4C664 1210.2 667.3 1214.8 672.5 1219.9C677.7 1225.1 687.3 1230.4 692.6 1236.3C697.8 1242.2 700.3 1249 704 1255.3C707.8 1261.6 711.8 1268.4 715.3 1274C718.7 1279.7 722.6 1285.1 724.7 1289.1C726.8 1293.1 726.1 1293.5 727.9 1298.1C729.7 1302.7 733.2 1310.6 735.4 1316.9C737.6 1323.2 739.7 1329.5 741.1 1335.8C742.5 1342.2 743.6 1349.1 744 1354.9C744.3 1360.6 743.8 1365.8 743 1370.3C742.2 1374.8 739.8 1379.9 739.2 1381.8" stroke-width="2.2"/>
<ellipse cx="733.1" cy="1185.6" rx="2.8" ry="2.6" transform="rotate(0 733.1 1185.6)" fill="#111" stroke-width="1.6"/>
<ellipse cx="728.9" cy="1193.1" rx="2.6" ry="2.4" transform="rotate(0 728.9 1193.1)" fill="#111" stroke-width="1.6"/>
<ellipse cx="722.8" cy="1197.8" rx="2.8" ry="2.6" transform="rotate(0 722.8 1197.8)" fill="#111" stroke-width="1.6"/>
<path d="M725.6 1187.5L732.1 1186" stroke-width="2.2"/>
<path d="M724.6 1190.3L728 1192.7" stroke-width="2.2"/>
<path d="M722.8 1191.2L722.8 1196.8" stroke-width="2.2"/>
<path d="M733.7 1376.5L744 1380.3L740.3 1392.5L730.9 1389.1Z" stroke-width="2.2" fill="#fff"/>
<path d="M736 1381.2L732.8 1390.2" stroke-width="1.7"/>
<path d="M740.3 1382.7L737.1 1391.5" stroke-width="1.7"/>
<path d="M732.4 1391.4C731.5 1392.6 729.4 1396.7 727 1398.6C724.7 1400.6 721.5 1402.1 718.3 1403C715 1403.9 714.3 1404.1 707.5 1403.9C700.7 1403.7 684.1 1402.5 677.6 1402C671.1 1401.5 669.8 1401.2 668.3 1401.1" stroke-width="2.1"/>
<path d="M735.1 1393.5C734.1 1394.8 731.8 1399.1 729.2 1401.3C726.5 1403.4 722.8 1405.3 719.2 1406.3C715.6 1407.3 714.4 1407.4 707.4 1407.3C700.5 1407.1 683.9 1405.9 677.4 1405.4C670.8 1404.9 669.5 1404.6 667.9 1404.5" stroke-width="2.1"/>
<path d="M732.6 1234.6C732.5 1237.6 731.7 1246.4 731.9 1252.5C732.1 1258.7 733 1266.9 733.8 1271.6C734.6 1276.2 735.7 1276.5 736.8 1280.5C737.8 1284.5 738.8 1290.5 740.1 1295.5C741.4 1300.5 743.2 1305.5 744.4 1310.5C745.7 1315.5 747 1321.1 747.8 1325.3C748.5 1329.6 748.9 1332.9 748.9 1336.2C748.8 1339.4 748.2 1342.6 747.3 1344.9C746.5 1347.1 744.3 1348.8 743.7 1349.6" stroke-width="2.1"/>
<path d="M736.8 1234.7C736.7 1237.7 735.9 1246.4 736.1 1252.4C736.3 1258.4 737.1 1266.3 737.9 1270.8C738.7 1275.4 739.8 1275.5 740.8 1279.5C741.9 1283.4 742.9 1289.5 744.2 1294.5C745.5 1299.5 747.2 1304.4 748.5 1309.5C749.8 1314.5 751.1 1320.2 751.9 1324.6C752.7 1329.1 753.2 1332.7 753.1 1336.3C753 1339.9 752.2 1343.7 751.2 1346.4C750.2 1349 747.7 1351.2 747 1352.1" stroke-width="2.1"/>
<path d="M732.5 1234.7C733.1 1234.3 735 1232.6 736.2 1232.8C737.5 1232.9 739.4 1235.1 740 1235.6" stroke-width="2"/>
<path d="M745 1362.5C745.6 1364 747.2 1368.7 748.7 1371.8C750.3 1375 753.4 1379.7 754.3 1381.2" stroke-width="2.1"/>
<ellipse cx="756.4" cy="1384.4" rx="4" ry="2" transform="rotate(55 756.4 1384.4)" fill="#111" stroke-width="1.6"/>
<path d="M541.6 1239.3C540.8 1241.5 538.1 1245.9 536.7 1252.1C535.2 1258.3 533.7 1268.5 532.9 1276.7C532 1284.9 531.6 1293.3 531.6 1301.2C531.6 1309.1 531.9 1317 532.9 1324C533.9 1331 535.3 1336.7 537.7 1343.1C540.1 1349.4 544.7 1357.6 547.2 1362.1C549.6 1366.5 549.1 1366.7 552.2 1369.8C555.4 1372.9 561.2 1377.5 566 1380.5C570.9 1383.6 575.8 1386 581.4 1388.2C586.9 1390.3 593.5 1392.1 599.6 1393.5C605.7 1394.8 610.7 1395.5 617.7 1396.5C624.8 1397.5 637.8 1399 641.8 1399.5" stroke-width="2.1"/>
<path d="M545 1240.7C544.2 1242.7 541.6 1246.8 540.2 1252.9C538.8 1259 537.3 1269 536.5 1277C535.6 1285.1 535.2 1293.5 535.2 1301.2C535.2 1309 535.5 1316.7 536.5 1323.5C537.4 1330.2 538.7 1335.7 541 1341.8C543.4 1348 548 1356.1 550.3 1360.4C552.6 1364.6 551.8 1364.4 554.8 1367.2C557.7 1370.1 563.3 1374.5 568 1377.5C572.6 1380.4 577.2 1382.7 582.6 1384.8C588.1 1386.9 594.5 1388.6 600.4 1389.9C606.3 1391.3 611.3 1391.9 618.3 1392.9C625.2 1393.9 638.2 1395.4 642.2 1395.9" stroke-width="2.1"/>
<ellipse cx="573.1" cy="1238.4" rx="3.4" ry="2.2" transform="rotate(60 573.1 1238.4)" fill="#fff" stroke-width="1.8"/>
<path d="M575 1241.2C575.8 1242.5 578.3 1247 579.7 1248.7C581.1 1250.5 582.8 1251.1 583.4 1251.6" stroke-width="2.1"/>
<ellipse cx="584.7" cy="1251.6" rx="2.4" ry="2.4" transform="rotate(0 584.7 1251.6)" fill="#fff" stroke-width="1.8"/>
<path d="M586.2 1248.7C587.5 1247.2 591.2 1241.9 593.7 1239.4C596.2 1236.9 599.3 1235.3 601.2 1233.7C603.1 1232.2 603.3 1231.5 605 1230C606.6 1228.5 608 1229.5 611.2 1225C614.5 1220.4 620.6 1210.3 624.3 1202.5C628.1 1194.7 630.9 1185.9 633.7 1178.1C636.5 1170.3 639 1163.1 641.2 1155.6C643.4 1148.1 645 1140.9 646.8 1133.1C648.7 1125.3 650.6 1115.9 652.5 1108.7C654.3 1101.6 657.2 1093.1 658.1 1090" stroke-width="2.1"/>
<path d="M586.3 1254.7C587.4 1255.4 589.4 1257.6 593 1259.4C596.7 1261.3 602.4 1263.2 608 1266C613.6 1268.8 620.8 1272.4 626.6 1276.2C632.5 1280.1 638.4 1284.6 643.3 1289.2C648.2 1293.8 652.6 1299.1 656.3 1304C659.9 1308.9 663 1313.9 665.5 1318.8C667.9 1323.7 669.6 1327.9 671 1333.5C672.4 1339 673.1 1347.8 673.8 1352.1C674.5 1356.3 674.7 1354.6 675.1 1358.9C675.4 1363.1 676 1371.9 676 1377.5C676 1383 675.8 1388.3 675.1 1392.2C674.3 1396.1 672.9 1399.2 671.6 1401C670.3 1402.7 668.2 1402.4 667.5 1402.7" stroke-width="2.2"/>
<path d="M588 1252.2C589.1 1253 590.9 1254.9 594.4 1256.8C598 1258.6 603.7 1260.5 609.4 1263.3C615 1266.2 622.3 1269.8 628.3 1273.7C634.3 1277.7 640.3 1282.3 645.4 1287C650.4 1291.8 654.8 1297.1 658.7 1302.2C662.5 1307.3 665.6 1312.3 668.2 1317.4C670.7 1322.5 672.5 1327 673.9 1332.7C675.3 1338.4 676 1347.3 676.7 1351.6C677.4 1355.9 677.7 1354.3 678 1358.6C678.4 1362.9 679 1371.8 679 1377.5C679 1383.2 678.9 1388.5 678 1392.7C677.2 1397 675.6 1400.6 674 1402.7C672.5 1404.8 669.6 1405 668.8 1405.4" stroke-width="2.2"/>
<ellipse cx="676.2" cy="1357.5" rx="3" ry="2.2" transform="rotate(90 676.2 1357.5)" fill="#fff" stroke-width="1.6"/>
<path d="M681.2 1320.3L686.9 1320.3L687.2 1325.9L681.6 1325.9Z" stroke-width="2.1" fill="#fff"/>
<path d="M686.9 1326.9C687.8 1327.6 689.7 1330.5 692.5 1331.5C695.3 1332.5 699.4 1332.8 703.7 1332.9C708.1 1333 714.7 1332.6 718.7 1332.1C722.8 1331.6 725.8 1330.9 728.1 1329.7C730.4 1328.5 732 1325.8 732.8 1325" stroke-width="2.2"/>
<path d="M679.7 1334L685.4 1333.4L685.9 1338.5L680.3 1339Z" stroke-width="2.1" fill="#fff"/>
<path d="M686.1 1335.7L692.5 1332.5" stroke-width="2.1"/>
<ellipse cx="686.9" cy="1354" rx="3.6" ry="2.6" transform="rotate(40 686.9 1354)" fill="#fff" stroke-width="1.9"/>
<path d="M690.2 1357.2C690.9 1357.8 692.4 1360.7 694.4 1360.6C696.3 1360.5 698.4 1357.8 701.9 1356.9C705.3 1355.9 710.6 1355.3 715 1355C719.4 1354.7 724.3 1355.1 728.1 1355C731.8 1354.8 735.9 1354.2 737.5 1354" stroke-width="3.6"/>
<path d="M686.3 1367.7L693.4 1364.3L695.9 1370.3L689.1 1373.7Z" stroke-width="3.1" fill="#fff"/>
<path d="M693.4 1364.7L696.2 1360.2" stroke-width="2.5"/>
<ellipse cx="642.8" cy="1368.1" rx="2.8" ry="2.8" transform="rotate(0 642.8 1368.1)" fill="#111" stroke-width="1.6"/>
<ellipse cx="651.2" cy="1365.3" rx="2.8" ry="2.8" transform="rotate(0 651.2 1365.3)" fill="#111" stroke-width="1.6"/>
<path d="M642.8 1370.9C643.9 1372 646.7 1375.4 649.4 1377.5C652 1379.5 655.6 1380.9 658.7 1383.1C661.9 1385.3 665.6 1388.6 668.1 1390.6C670.6 1392.6 672.8 1394.5 673.7 1395.3" stroke-width="2.2"/>
<path d="M651.2 1368.1C651.9 1369.7 653.4 1374.8 655 1377.5C656.6 1380.1 659.7 1382.9 660.6 1384" stroke-width="2.2"/>
<path d="M640 1377.5C641.2 1377.8 645.3 1378.1 647.5 1379.3C649.7 1380.6 650.6 1383.7 653.1 1385C655.6 1386.2 660.9 1386.5 662.5 1386.8" stroke-width="2.1"/>
<path d="M640.9 1396.2L660.6 1394.7L662.1 1400L661.6 1406.5L641.9 1408.4L640.9 1401.8Z" stroke-width="2.4" fill="#fff"/>
<path d="M640.9 1400L661 1398.5" stroke-width="1.7"/>
<path d="M580.5 1385C582 1386.5 585.8 1390.8 589.5 1394C593.2 1397.2 598.2 1401.6 603 1404.5C607.8 1407.4 613 1409.6 618 1411.2C623 1412.8 627.2 1413.7 633 1414.2C638.8 1414.7 645.5 1414.3 652.5 1414.2C659.5 1414.1 669.3 1413.7 675 1413.7C680.7 1413.7 684.9 1414 686.9 1414" stroke-width="3.4"/>
<path d="M689.1 1413.1L699.6 1413.8L699.2 1418.3L688.7 1417.6Z" stroke-width="2.1" fill="#fff"/>
<path d="M700.4 1416.3C703.4 1416.7 713.2 1417.7 718.7 1418.7C724.3 1419.7 730 1421.2 733.7 1422.5C737.5 1423.7 740 1425.6 741.2 1426.2" stroke-width="3.4"/>
<path d="M702.8 1382.2C702.9 1381.4 702.8 1378.3 703.7 1377.5C704.7 1376.6 708.1 1376.6 708.4 1377.1C708.7 1377.6 706.1 1379.8 705.6 1380.3" stroke-width="2.1"/>
<path d="M709.7 1382.2C709.9 1381.3 710 1377.9 710.9 1377.1C711.7 1376.3 714.8 1376.8 715 1377.5C715.2 1378.2 712.6 1380.6 712.2 1381.2" stroke-width="2.1"/>
<path d="M713.1 1382.2C713.3 1383.9 714.2 1389.5 714 1392.5C713.9 1395.4 713.3 1398.1 712.2 1400C711.1 1401.8 708.3 1403.1 707.5 1403.7" stroke-width="2.1"/>
<ellipse cx="700" cy="1392.5" rx="4" ry="1.8" transform="rotate(80 700 1392.5)" fill="#fff" stroke-width="1.6"/>
<ellipse cx="705.6" cy="1392.5" rx="4" ry="1.8" transform="rotate(80 705.6 1392.5)" fill="#fff" stroke-width="1.6"/>
<path d="M699.6 1396.6L698.1 1403.7" stroke-width="1.8"/>
<path d="M705.6 1396.6L706.5 1403.7" stroke-width="1.8"/>
<ellipse cx="784.3" cy="1297.8" rx="3.2" ry="3" transform="rotate(0 784.3 1297.8)" fill="#555" stroke-width="1.9"/>
<path d="M777.5 1266C777.5 1267.5 777.6 1272.6 777.8 1275C778.1 1277.3 777.9 1277.6 778.7 1280C779.5 1282.4 781.6 1286.9 782.5 1289.4C783.3 1291.9 783.7 1294.1 784 1295" stroke-width="2.1"/>
<path d="M740.3 1423.7C743.5 1423.1 753.8 1420.8 759.5 1420.2C765.2 1419.5 772.1 1419.7 774.6 1419.6" stroke-width="2.1"/>
<ellipse cx="776.9" cy="1419.6" rx="3.4" ry="2.6" transform="rotate(-10 776.9 1419.6)" fill="#fff" stroke-width="1.9"/>
<path d="M740.3 1423.7C743.8 1424.6 755 1426.7 761.4 1429C767.7 1431.2 775.5 1435.8 778.4 1437.2" stroke-width="2.1"/>
<ellipse cx="780.6" cy="1437.2" rx="3.4" ry="2.6" transform="rotate(-20 780.6 1437.2)" fill="#fff" stroke-width="1.9"/>
<path d="M740.3 1423.7C743.3 1425.9 753.2 1432.1 758.6 1436.7C764 1441.4 770.4 1449.2 772.7 1451.6" stroke-width="2.1"/>
<ellipse cx="775" cy="1452.8" rx="3.4" ry="2.6" transform="rotate(35 775 1452.8)" fill="#fff" stroke-width="1.9"/>
<path d="M740.3 1423.7C742.4 1425.9 749.4 1432.1 753 1436.7C756.5 1441.4 760.1 1449.2 761.5 1451.6" stroke-width="2.1"/>
<ellipse cx="763.7" cy="1452.8" rx="3.4" ry="2.6" transform="rotate(50 763.7 1452.8)" fill="#fff" stroke-width="1.9"/>
<path d="M740.3 1423.7C740.8 1425.9 742.2 1432.1 743.1 1436.7C744 1441.4 745.1 1449.2 745.5 1451.6" stroke-width="2.1"/>
<ellipse cx="744" cy="1452.8" rx="3.4" ry="2.6" transform="rotate(-30 744 1452.8)" fill="#fff" stroke-width="1.9"/>
<ellipse cx="753.4" cy="1434" rx="3.4" ry="2.8" transform="rotate(40 753.4 1434)" fill="#333" stroke-width="1.8"/>
<path d="M740.3 1423.7C741.4 1424.7 745 1427.8 746.9 1429.3C748.7 1430.8 750.8 1432.2 751.5 1432.7" stroke-width="2.5"/>
<path d="M755.3 1435.9C756.1 1437 758.7 1440.1 760 1442.5C761.2 1444.8 762.3 1448.7 762.8 1450" stroke-width="2.1"/>
<path d="M756.2 1437.8C757.8 1438.9 762.8 1442.2 765.6 1444.3C768.4 1446.5 771.9 1449.8 773.1 1450.9" stroke-width="2.1"/>
<path d="M738.4 1423.7C738.7 1425.6 740.1 1431.8 740.3 1435C740.5 1438.1 739.8 1441.2 739.7 1442.5" stroke-width="4.2"/>
<path d="M847.1 1359.1C846.4 1360.1 843.9 1364.2 842.5 1365.6C841 1367 840.6 1366.2 838.7 1367.5C836.8 1368.7 834.3 1371.1 831.2 1373.1C828.1 1375.1 824.3 1378 820 1379.7C815.6 1381.4 810 1382.5 805 1383.4C800 1384.4 794.3 1384 790 1385.3C785.6 1386.5 782.2 1388.3 778.7 1390.9C775.3 1393.6 772.5 1397.9 769.4 1401.2C766.2 1404.5 763.4 1407.8 760 1410.6C756.5 1413.4 752.2 1416.1 748.7 1418.1C745.3 1420.1 740.9 1422 739.4 1422.8" stroke-width="2.2"/>
<path d="M836.8 1358.1L838.7 1366.6" stroke-width="2.1"/>
<ellipse cx="835.9" cy="1354.4" rx="3.4" ry="2.4" transform="rotate(80 835.9 1354.4)" fill="#fff" stroke-width="1.9"/>
<ellipse cx="847.5" cy="1355.3" rx="3.4" ry="2.4" transform="rotate(100 847.5 1355.3)" fill="#fff" stroke-width="1.9"/>
<ellipse cx="596.2" cy="1375.5" rx="3.4" ry="2.4" transform="rotate(0 596.2 1375.5)" fill="#444" stroke-width="1.6"/>
<path d="M599.9 1373.7C602.4 1374.3 611.2 1374.9 614.9 1377.4C618.7 1379.9 621.1 1386.8 622.4 1388.7" stroke-width="2.1"/>
<ellipse cx="641.1" cy="1366.2" rx="2.6" ry="2.4" transform="rotate(0 641.1 1366.2)" fill="#111" stroke-width="1.6"/>
<path d="M641.1 1366.2C644.3 1369.9 654.9 1383.5 659.9 1388.7C664.9 1393.8 669.3 1395.5 671.1 1396.9" stroke-width="2"/>
<ellipse cx="650.5" cy="1366.2" rx="2.6" ry="2.4" transform="rotate(0 650.5 1366.2)" fill="#111" stroke-width="1.6"/>
<path d="M650.5 1366.2C652.1 1369.9 656.5 1383.5 659.9 1388.7C663.3 1393.8 669.3 1395.5 671.1 1396.9" stroke-width="2"/>
<ellipse cx="639.3" cy="1379.3" rx="2.6" ry="2.4" transform="rotate(0 639.3 1379.3)" fill="#111" stroke-width="1.6"/>
<path d="M639.3 1379.3C642.7 1380.9 654.6 1385.7 659.9 1388.7C665.2 1391.6 669.3 1395.5 671.1 1396.9" stroke-width="2"/>
<ellipse cx="654.3" cy="1375.5" rx="2.6" ry="2.4" transform="rotate(0 654.3 1375.5)" fill="#111" stroke-width="1.6"/>
<path d="M654.3 1375.5C655.2 1377.7 657.1 1385.1 659.9 1388.7C662.7 1392.2 669.3 1395.5 671.1 1396.9" stroke-width="2"/>
<path d="M680 1168.1C683.1 1169.1 693.1 1171.7 698.7 1173.7C704.4 1175.8 709.7 1178.1 713.7 1180.3C717.8 1182.5 721.5 1185.8 723.1 1186.9" stroke-width="3.9"/>
<ellipse cx="733.4" cy="1185.5" rx="3" ry="2.4" transform="rotate(-20 733.4 1185.5)" fill="#111" stroke-width="1.6"/>
<ellipse cx="729.7" cy="1194.4" rx="3" ry="2.4" transform="rotate(-20 729.7 1194.4)" fill="#111" stroke-width="1.6"/>
<ellipse cx="724" cy="1197.2" rx="3" ry="2.4" transform="rotate(-20 724 1197.2)" fill="#111" stroke-width="1.6"/>
<path d="M723.1 1186.9L730.6 1185.9" stroke-width="2.2"/>
<path d="M722.2 1188.7L727.8 1193.4" stroke-width="2.2"/>
<path d="M720.3 1189.1L723.1 1196.2" stroke-width="2.2"/>
<ellipse cx="770.9" cy="1182.2" rx="3" ry="2.2" transform="rotate(90 770.9 1182.2)" fill="#fff" stroke-width="1.8"/>
<ellipse cx="770.9" cy="1195.9" rx="3" ry="2.2" transform="rotate(90 770.9 1195.9)" fill="#fff" stroke-width="1.8"/>
<ellipse cx="738.5" cy="1203" rx="4" ry="1.8" transform="rotate(-15 738.5 1203)" fill="#111" stroke-width="1.6"/>
<ellipse cx="749.4" cy="1204.7" rx="3.2" ry="2" transform="rotate(80 749.4 1204.7)" fill="#111" stroke-width="1.6"/>
<ellipse cx="757.8" cy="1205.6" rx="4" ry="1.8" transform="rotate(0 757.8 1205.6)" fill="#111" stroke-width="1.6"/>
<path d="M736.2 1203.7C735.3 1204.7 732 1206.5 730.6 1209.4C729.2 1212.2 727.8 1216.9 727.8 1220.6C727.8 1224.3 729.5 1229 730.6 1231.8C731.7 1234.7 733.7 1236.5 734.4 1237.5" stroke-width="2.2"/>
<path d="M749.4 1207.5C748.9 1209.4 746.9 1215 746.5 1218.7C746.2 1222.5 746.4 1226.2 747.5 1230C748.6 1233.7 750.6 1238.1 753.1 1241.2C755.6 1244.3 759.7 1246.8 762.5 1248.7C765.3 1250.6 768.7 1251.8 770 1252.5" stroke-width="2.2"/>
<path d="M760.6 1205.6C761.5 1205.3 764.7 1205 766.2 1203.7C767.8 1202.5 769.3 1199 770 1198.1" stroke-width="2.2"/>
<rect x="769.6" y="1245.9" width="3.8" height="4.4" fill="#111" stroke="none"/>
<rect x="769.6" y="1251.9" width="3.8" height="4.4" fill="#111" stroke="none"/>
<rect x="769.6" y="1257.9" width="3.8" height="4.4" fill="#111" stroke="none"/>
<rect x="774.7" y="1245.9" width="3.8" height="4.4" fill="#111" stroke="none"/>
<rect x="774.7" y="1251.9" width="3.8" height="4.4" fill="#111" stroke="none"/>
<rect x="774.7" y="1257.9" width="3.8" height="4.4" fill="#111" stroke="none"/>
<rect x="779.7" y="1245.9" width="3.8" height="4.4" fill="#111" stroke="none"/>
<rect x="779.7" y="1251.9" width="3.8" height="4.4" fill="#111" stroke="none"/>
<rect x="779.7" y="1257.9" width="3.8" height="4.4" fill="#111" stroke="none"/>
<path d="M768.1 1245L785 1244L785.9 1263.7L770 1264.6Z" stroke-width="1.8"/>
<path d="M785 1245.9C786.2 1246.7 790.9 1248.6 792.5 1250.6C794 1252.6 795 1255.9 794.3 1258.1C793.7 1260.3 791.5 1262.4 788.7 1263.7C785.9 1265 779.3 1265.6 777.5 1266" stroke-width="2.2"/>
<path d="M795.8 1257.2L800 1256.2L799.2 1261.8L795.1 1262.8Z" stroke-width="1.8"/>
<text x="858.2" y="83" font-size="24" text-anchor="middle" stroke="#111" stroke-width="1" fill="#111">17</text>
<path d="M859.3 88L859.3 126.5" stroke-width="1.5"/>
<path d="M859.3 126.5L857.3 117.5L861.3 117.5Z" fill="#111" stroke-width="0.6"/>
<text x="544.3" y="159.2" font-size="24" text-anchor="middle" stroke="#111" stroke-width="1" fill="#111">16</text>
<path d="M544.3 165L544.3 218" stroke-width="1.5"/>
<path d="M544.3 218L542.3 209L546.3 209Z" fill="#111" stroke-width="0.6"/>
<text x="81.2" y="401.1" font-size="24" text-anchor="middle" stroke="#111" stroke-width="1" fill="#111">3</text>
<path d="M92.5 392.5L129 392.5" stroke-width="1.5"/>
<path d="M129 392.5L124 394.7L124 390.3Z" fill="#111" stroke-width="0.6"/>
<path d="M129 392.5L135 392.5" stroke-width="1.7"/>
<text x="230" y="420.4" font-size="24" text-anchor="middle" stroke="#111" stroke-width="1" fill="#111">5</text>
<path d="M220 413.5L184 413.5" stroke-width="1.5"/>
<path d="M184 413.5L189 411.3L189 415.7Z" fill="#111" stroke-width="0.6"/>
<text x="307.2" y="420.3" font-size="24" text-anchor="middle" stroke="#111" stroke-width="1" fill="#111">26</text>
<path d="M286.5 412.2L264 412.2" stroke-width="1.5"/>
<path d="M264 412.2L269 410L269 414.4Z" fill="#111" stroke-width="0.6"/>
<path d="M264 412.2L260 412.2" stroke-width="1.7"/>
<text x="385.4" y="419.6" font-size="24" text-anchor="middle" stroke="#111" stroke-width="1" fill="#111">21</text>
<path d="M387.6 425L387.6 464" stroke-width="1.5"/>
<path d="M387.6 464L385.6 454L389.6 454Z" fill="#111" stroke-width="0.6"/>
<text x="432" y="462.4" font-size="24" text-anchor="middle" stroke="#111" stroke-width="1" fill="#111">2</text>
<path d="M432.1 468L433 517" stroke-width="1.5"/>
<text x="385.7" y="597.1" font-size="24" text-anchor="middle" stroke="#111" stroke-width="1" fill="#111">1</text>
<path d="M385.5 576L385.3 530" stroke-width="1.5"/>
<path d="M385.3 530L387.3 540L383.3 540Z" fill="#111" stroke-width="0.6"/>
<text x="683" y="477.2" font-size="24" text-anchor="middle" stroke="#111" stroke-width="1" fill="#111">19</text>
<path d="M666.2 470L608 470" stroke-width="1.5"/>
<path d="M608 470L616 468L616 472Z" fill="#111" stroke-width="0.6"/>
<text x="725.4" y="457.3" font-size="24" text-anchor="middle" stroke="#111" stroke-width="1" fill="#111">1</text>
<path d="M726.2 462L726.2 495.6" stroke-width="1.5"/>
<path d="M726.2 495.6L724.2 486.6L728.2 486.6Z" fill="#111" stroke-width="0.6"/>
<text x="765.5" y="587.8" font-size="24" text-anchor="middle" stroke="#111" stroke-width="1" fill="#111">10</text>
<path d="M761.8 565L761.8 512.5" stroke-width="1.5"/>
<path d="M761.8 512.5L763.8 522.5L759.8 522.5Z" fill="#111" stroke-width="0.6"/>
<text x="591.2" y="629.8" font-size="24" text-anchor="middle" stroke="#111" stroke-width="1" fill="#111">6</text>
<text x="618.6" y="629.8" font-size="24" text-anchor="middle" stroke="#111" stroke-width="1" fill="#111">8</text>
<text x="644.4" y="626" font-size="24" text-anchor="middle" stroke="#111" stroke-width="1" fill="#111">7</text>
<path d="M594.6 604L591.8 551.2L574 541.8" stroke-width="1.7"/>
<path d="M617.5 604L605 543.7L577.8 531.5" stroke-width="1.7"/>
<path d="M639.5 601L623.7 532.5L582.4 518.4" stroke-width="1.7"/>
<text x="652.4" y="934.8" font-size="24" text-anchor="middle" stroke="#111" stroke-width="1" fill="#111">14</text>
<path d="M652.4 940L652.4 990" stroke-width="1.5"/>
<text x="714.2" y="936.7" font-size="24" text-anchor="middle" stroke="#111" stroke-width="1" fill="#111">9</text>
<path d="M714.2 943C714.5 957.5 715.5 1001.8 716 1030C716.5 1058.2 717 1094.2 717 1112C717 1129.8 716.7 1130.3 716.2 1137C715.8 1143.7 715.5 1146.4 714.3 1152C713 1157.6 710.6 1165.6 708.7 1170.6C706.8 1175.6 705.2 1176.5 703 1181.8C700.8 1187.1 696.8 1199 695.6 1202.5" stroke-width="1.7"/>
<path d="M695.6 1202.5L688.5 1219" stroke-width="1.2"/>
<path d="M688.5 1219L690 1209.9L694.1 1211.6Z" fill="#111" stroke-width="0.6"/>
<text x="836" y="1007.9" font-size="24" text-anchor="middle" stroke="#111" stroke-width="1" fill="#111">15</text>
<path d="M836 1012.5L836 1078" stroke-width="1.5"/>
<path d="M836 1078L834 1069L838 1069Z" fill="#111" stroke-width="0.6"/>
<text x="508.8" y="1094.2" font-size="24" text-anchor="middle" stroke="#111" stroke-width="1" fill="#111">22</text>
<path d="M510.7 1098.7L510.7 1125" stroke-width="1.5"/>
<path d="M510.7 1125L508.7 1116L512.7 1116Z" fill="#111" stroke-width="0.6"/>
<text x="342" y="1219.2" font-size="24" text-anchor="middle" stroke="#111" stroke-width="1" fill="#111">1</text>
<path d="M343.1 1225.6L343.1 1251.8" stroke-width="1.5"/>
<path d="M343.1 1251.8L341.1 1242.8L345.1 1242.8Z" fill="#111" stroke-width="0.6"/>
<text x="378" y="1335.4" font-size="24" text-anchor="middle" stroke="#111" stroke-width="1" fill="#111">10</text>
<path d="M376.9 1313.7L376.9 1268.7" stroke-width="1.5"/>
<path d="M376.9 1268.7L378.9 1278.7L374.9 1278.7Z" fill="#111" stroke-width="0.6"/>
<text x="457.5" y="1427.3" font-size="24" text-anchor="middle" stroke="#111" stroke-width="1" fill="#111">25</text>
<path d="M457.5 1407.4L457.5 1360.6" stroke-width="1.5"/>
<path d="M457.5 1360.6L459.5 1370.6L455.5 1370.6Z" fill="#111" stroke-width="0.6"/>
<text x="905.4" y="1314.8" font-size="24" text-anchor="middle" stroke="#111" stroke-width="1" fill="#111">20</text>
<path d="M887.4 1306.2L752.5 1306.2" stroke-width="1.5"/>
<path d="M752.5 1306.2L760.5 1304.2L760.5 1308.2Z" fill="#111" stroke-width="0.6"/>
<text x="674.3" y="1478.6" font-size="24" text-anchor="middle" stroke="#111" stroke-width="1" fill="#111">4</text>
<path d="M674.3 1453L674.3 1405" stroke-width="1.5"/>
<text x="743.7" y="1542.3" font-size="24" text-anchor="middle" stroke="#111" stroke-width="1" fill="#111">15</text>
<path d="M742.6 1518.7L742.6 1430" stroke-width="1.5"/>
<path d="M742.6 1430L744.6 1440L740.6 1440Z" fill="#111" stroke-width="0.6"/>
</g>
<defs><clipPath id="lc"><circle cx="966.6" cy="1499.6" r="99.5"/></clipPath><filter id="bl" x="-30%" y="-30%" width="160%" height="160%"><feGaussianBlur stdDeviation="5"/></filter><filter id="bs" x="-30%" y="-30%" width="160%" height="160%"><feGaussianBlur stdDeviation="1.2"/></filter></defs>
<g clip-path="url(#lc)">
<rect x="860" y="1395" width="210" height="210" fill="#d29a97"/>
<g filter="url(#bl)">
<polygon points="865.6,1400.6 991.3,1398.6 970.7,1431.5 908.9,1448 867.6,1466.6" fill="#c4807e"/>
<polygon points="867.6,1466.6 908.9,1448 908.9,1512 869.7,1503.7" fill="#c98b88"/>
<polygon points="1028.4,1458.4 1067,1448 1067,1524.3 1032.6,1512" fill="#ebb9b9"/>
<polygon points="1024.3,1404.7 1067,1421.2 1067,1450.1 1028.4,1458.4" fill="#cd8c8c"/>
<polygon points="867.6,1507.8 913,1524.3 933.6,1565.6 898.5,1577.9" fill="#c88a88"/>
<polygon points="1024.3,1524.3 1067,1528.5 1053.2,1575.9 1003.7,1586.2" fill="#dba5a5"/>
<polygon points="908.9,1575.9 970.7,1586.2 1022.3,1582.1 970.7,1600.6" fill="#e2b0b0"/>
</g>
<g filter="url(#bs)" stroke-linecap="round" fill="none">
<polyline points="867.6,1491.3 915,1524.3" stroke="#b97474" stroke-width="3"/>
<polyline points="871.7,1536.7 915,1557.3 943.9,1584.1" stroke="#b56f6f" stroke-width="3.5"/>
<polyline points="875.9,1544.9 900.6,1555.3" stroke="#e3b3b3" stroke-width="2"/>
<polyline points="1030.5,1512 1065.6,1495.5" stroke="#bd7a7a" stroke-width="2.5"/>
<polyline points="1032.6,1466.6 1065.6,1479" stroke="#f0c4c4" stroke-width="4"/>
<polyline points="1024.3,1540.8 991.3,1577.9" stroke="#ba7676" stroke-width="3"/>
<polyline points="1028.4,1524.3 1005.8,1557.3" stroke="#e6b8b8" stroke-width="2.5"/>
<polyline points="873.8,1441.9 906.8,1429.5" stroke="#b06a6a" stroke-width="3"/>
<polyline points="898.5,1408.9 954.2,1402.7 1011.9,1413" stroke="#b87272" stroke-width="4"/>
<polyline points="1028.4,1431.5 1053.2,1448" stroke="#c27e7e" stroke-width="3"/>
<polyline points="946,1586.2 991.3,1571.8" stroke="#b77373" stroke-width="3"/>
</g>
</g>
<path d="M905.8 1432.6C910.7 1430.9 925.5 1425 935.7 1422.7C945.8 1420.3 956.3 1418.6 966.6 1418.6C976.9 1418.6 987.3 1420.3 997.5 1422.7C1007.7 1425 1022.6 1430.9 1027.6 1432.6C1027.7 1437.6 1028 1450.6 1027.8 1462.5C1027.7 1474.3 1028.2 1491.3 1026.8 1503.7C1025.4 1516.1 1023.9 1526.9 1019.4 1536.7C1014.8 1546.5 1008.4 1554.7 999.6 1562.5C990.8 1570.2 972.1 1579.7 966.6 1583.1C961.1 1579.7 942.4 1570.2 933.6 1562.5C924.8 1554.7 918.3 1546.5 913.8 1536.7C909.3 1526.9 907.8 1516.1 906.4 1503.7C905 1491.3 905.5 1474.3 905.4 1462.5C905.2 1450.6 905.7 1437.6 905.8 1432.6Z" fill="#676c74"/>
<defs><clipPath id="cc"><path d="M909.3 1451.1C914 1449.7 928.2 1444.4 937.7 1442.5C947.3 1440.5 957 1439.4 966.6 1439.4C976.2 1439.4 985.8 1440.5 995.5 1442.5C1005.1 1444.4 1019.5 1449.7 1024.3 1451.1C1024.3 1454.7 1024.5 1464 1024.3 1472.8C1024.1 1481.5 1024.7 1493.3 1023.3 1503.7C1021.9 1514.1 1020.4 1525.8 1016.1 1535.1C1011.7 1544.3 1005.4 1552 997.1 1559C988.9 1565.9 971.7 1573.9 966.6 1576.9C961.5 1573.9 944.3 1565.9 936.1 1559C927.8 1552 921.5 1544.3 917.1 1535.1C912.7 1525.8 911.3 1514.1 909.9 1503.7C908.5 1493.3 909 1481.5 908.9 1472.8C908.8 1464 909.2 1454.7 909.3 1451.1Z"/></clipPath></defs>
<path d="M909.3 1451.1C914 1449.7 928.2 1444.4 937.7 1442.5C947.3 1440.5 957 1439.4 966.6 1439.4C976.2 1439.4 985.8 1440.5 995.5 1442.5C1005.1 1444.4 1019.5 1449.7 1024.3 1451.1C1024.3 1454.7 1024.5 1464 1024.3 1472.8C1024.1 1481.5 1024.7 1493.3 1023.3 1503.7C1021.9 1514.1 1020.4 1525.8 1016.1 1535.1C1011.7 1544.3 1005.4 1552 997.1 1559C988.9 1565.9 971.7 1573.9 966.6 1576.9C961.5 1573.9 944.3 1565.9 936.1 1559C927.8 1552 921.5 1544.3 917.1 1535.1C912.7 1525.8 911.3 1514.1 909.9 1503.7C908.5 1493.3 909 1481.5 908.9 1472.8C908.8 1464 909.2 1454.7 909.3 1451.1Z" fill="#d9d4b9"/>
<g clip-path="url(#cc)">
<rect x="948.4" y="1437.7" width="37.3" height="33" fill="#676c74"/>
<rect x="950.7" y="1437.7" width="32.8" height="33" fill="#c9484f"/>
<rect x="948.4" y="1544.3" width="37.3" height="41.9" fill="#676c74"/>
<rect x="950.7" y="1546.2" width="32.8" height="40" fill="#c9484f"/>
</g>
<g transform="translate(919.7 1519.2) scale(1 1.17)"><text x="0" y="0" font-family="Liberation Sans,Arial,sans-serif" font-weight="bold" font-size="68.7" fill="#676c74" stroke="#676c74" stroke-width="6.2" stroke-linejoin="miter">D</text></g>
<g transform="translate(971.7 1519.2) scale(0.83 1.17)"><text x="0" y="0" font-family="Liberation Sans,Arial,sans-serif" font-weight="bold" font-size="68.7" fill="#676c74" stroke="#676c74" stroke-width="6.8" stroke-linejoin="miter">C</text></g>
<text x="926.4" y="1537.7" font-family="Liberation Sans,Arial,sans-serif" font-size="14.2" textLength="85.6" lengthAdjust="spacingAndGlyphs" fill="#676c74">AUTO</text>
<path id="arc" d="M911.3 1443.1 A172 172 0 0 1 1022.9 1443.5" fill="none"/>
<text font-family="Liberation Sans,Arial,sans-serif" font-weight="bold" font-size="13" fill="#fff" stroke="#fff" stroke-width="0.4"><textPath href="#arc" textLength="112" lengthAdjust="spacingAndGlyphs">DCAUTO.COM</textPath></text>
</svg>
</body></html>
